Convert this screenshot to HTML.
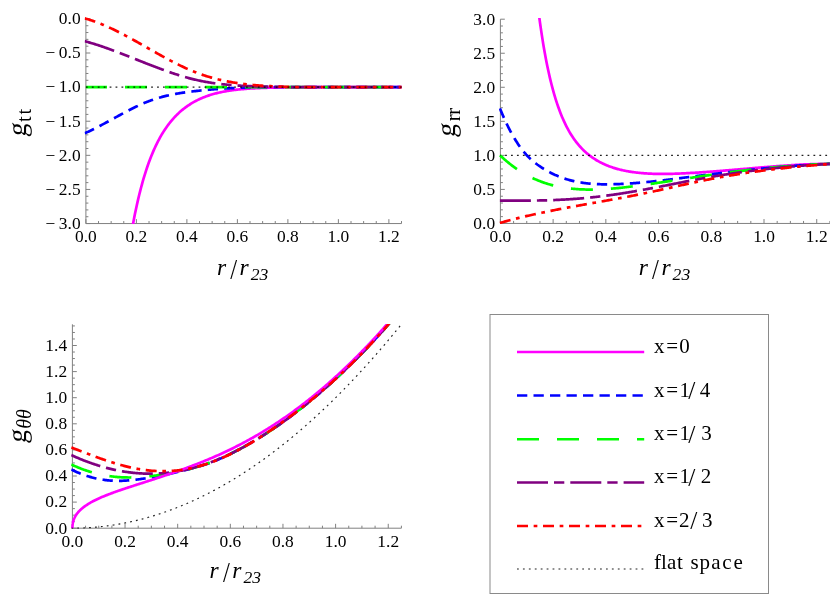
<!DOCTYPE html>
<html><head><meta charset="utf-8"><title>metric functions</title>
<style>
html,body{margin:0;padding:0;background:#fff;}
body{width:830px;height:599px;overflow:hidden;}
svg{display:block;font-family:"Liberation Serif",serif;will-change:transform;}
.t{font-size:17.4px;fill:#000;letter-spacing:0px;}
.xr{font-size:23.5px;font-style:italic;fill:#000;}
.xs{font-size:28px;fill:#000;}
.xsub{font-size:17.6px;font-style:italic;fill:#000;}
.yg{font-size:27px;fill:#000;}
.subr{font-size:20.5px;fill:#000;letter-spacing:1.9px;}
.subrr{font-size:20.5px;fill:#000;letter-spacing:-0.4px;}
.subi{font-size:20px;font-style:italic;fill:#000;}
.lg{font-size:21px;fill:#000;}
.sl{font-size:25.5px;}
</style></head><body>
<svg width="830" height="599" viewBox="0 0 830 599">
<defs>
<clipPath id="c1"><rect x="84.60" y="16.90" width="317.40" height="207.15"/></clipPath>
<clipPath id="c2"><rect x="499.10" y="18.10" width="331.30" height="205.85"/></clipPath>
<clipPath id="c3"><rect x="71.10" y="324.00" width="330.80" height="204.70"/></clipPath>
</defs>
<rect width="830" height="599" fill="#fff"/>
<path d="M85.90 18.90 V223.55 M85.90 223.55 H401.50" stroke="#808080" stroke-width="1" fill="none"/>
<path d="M98.52 223.55 v-2.5 M111.15 223.55 v-2.5 M123.77 223.55 v-2.5 M149.02 223.55 v-2.5 M161.64 223.55 v-2.5 M174.27 223.55 v-2.5 M199.52 223.55 v-2.5 M212.14 223.55 v-2.5 M224.76 223.55 v-2.5 M250.01 223.55 v-2.5 M262.64 223.55 v-2.5 M275.26 223.55 v-2.5 M300.51 223.55 v-2.5 M313.13 223.55 v-2.5 M325.76 223.55 v-2.5 M351.00 223.55 v-2.5 M363.63 223.55 v-2.5 M376.25 223.55 v-2.5 M401.50 223.55 v-2.5 M85.90 223.55 v-4.4 M136.40 223.55 v-4.4 M186.89 223.55 v-4.4 M237.39 223.55 v-4.4 M287.88 223.55 v-4.4 M338.38 223.55 v-4.4 M388.88 223.55 v-4.4 M85.90 25.72 h2.5 M85.90 32.54 h2.5 M85.90 39.36 h2.5 M85.90 46.19 h2.5 M85.90 59.83 h2.5 M85.90 66.65 h2.5 M85.90 73.47 h2.5 M85.90 80.29 h2.5 M85.90 93.94 h2.5 M85.90 100.76 h2.5 M85.90 107.58 h2.5 M85.90 114.40 h2.5 M85.90 128.05 h2.5 M85.90 134.87 h2.5 M85.90 141.69 h2.5 M85.90 148.51 h2.5 M85.90 162.16 h2.5 M85.90 168.98 h2.5 M85.90 175.80 h2.5 M85.90 182.62 h2.5 M85.90 196.26 h2.5 M85.90 203.09 h2.5 M85.90 209.91 h2.5 M85.90 216.73 h2.5 M85.90 18.90 h4.4 M85.90 53.01 h4.4 M85.90 87.12 h4.4 M85.90 121.23 h4.4 M85.90 155.33 h4.4 M85.90 189.44 h4.4 M85.90 223.55 h4.4 " stroke="#808080" stroke-width="1" fill="none"/>
<text x="85.90" y="242.15" class="t" text-anchor="middle">0.0</text>
<text x="136.40" y="242.15" class="t" text-anchor="middle">0.2</text>
<text x="186.89" y="242.15" class="t" text-anchor="middle">0.4</text>
<text x="237.39" y="242.15" class="t" text-anchor="middle">0.6</text>
<text x="287.88" y="242.15" class="t" text-anchor="middle">0.8</text>
<text x="338.38" y="242.15" class="t" text-anchor="middle">1.0</text>
<text x="388.88" y="242.15" class="t" text-anchor="middle">1.2</text>
<text x="80.60" y="24.25" class="t" text-anchor="end">0.0</text>
<text x="80.60" y="58.36" class="t" text-anchor="end">&#8722;&#8201;0.5</text>
<text x="80.60" y="92.47" class="t" text-anchor="end">&#8722;&#8201;1.0</text>
<text x="80.60" y="126.58" class="t" text-anchor="end">&#8722;&#8201;1.5</text>
<text x="80.60" y="160.68" class="t" text-anchor="end">&#8722;&#8201;2.0</text>
<text x="80.60" y="194.79" class="t" text-anchor="end">&#8722;&#8201;2.5</text>
<text x="80.60" y="228.90" class="t" text-anchor="end">&#8722;&#8201;3.0</text>
<path d="M126.30 265.84 L127.16 259.70 L128.02 253.81 L128.88 248.14 L129.75 242.69 L130.61 237.46 L131.47 232.42 L132.34 227.58 L133.20 222.92 L134.06 218.43 L134.92 214.11 L135.79 209.96 L136.65 205.95 L137.51 202.10 L138.37 198.38 L139.24 194.80 L140.10 191.35 L140.96 188.02 L141.83 184.80 L142.69 181.71 L143.55 178.72 L144.41 175.83 L145.28 173.04 L146.14 170.36 L147.00 167.76 L147.86 165.25 L148.73 162.82 L149.59 160.48 L150.45 158.22 L151.32 156.03 L152.18 153.91 L153.04 151.86 L153.90 149.88 L154.77 147.97 L155.63 146.11 L156.49 144.32 L157.35 142.58 L158.22 140.90 L159.08 139.27 L159.94 137.69 L160.81 136.16 L161.67 134.68 L162.53 133.25 L163.39 131.85 L164.26 130.51 L165.12 129.20 L165.98 127.93 L166.84 126.70 L167.71 125.51 L168.57 124.36 L169.43 123.23 L170.29 122.15 L171.16 121.09 L172.02 120.07 L172.88 119.07 L173.75 118.11 L174.61 117.17 L175.47 116.26 L176.33 115.38 L177.20 114.52 L178.06 113.69 L178.92 112.88 L179.78 112.09 L180.65 111.33 L181.51 110.59 L182.37 109.87 L183.24 109.17 L184.10 108.49 L184.96 107.83 L185.82 107.19 L186.69 106.56 L187.55 105.96 L188.41 105.37 L189.27 104.80 L190.14 104.24 L191.00 103.70 L191.86 103.18 L192.73 102.67 L193.59 102.17 L194.45 101.69 L195.31 101.22 L196.18 100.77 L197.04 100.33 L197.90 99.90 L198.76 99.48 L199.63 99.08 L200.49 98.68 L201.35 98.30 L202.21 97.93 L203.08 97.57 L203.94 97.22 L204.80 96.89 L205.67 96.56 L206.53 96.24 L207.39 95.93 L208.25 95.63 L209.12 95.35 L209.98 95.06 L210.84 94.79 L211.70 94.53 L212.57 94.27 L213.43 94.03 L214.29 93.79 L215.16 93.56 L216.02 93.33 L216.88 93.12 L217.74 92.91 L218.61 92.70 L219.47 92.51 L220.33 92.32 L221.19 92.13 L222.06 91.95 L222.92 91.78 L223.78 91.62 L224.65 91.46 L225.51 91.30 L226.37 91.15 L227.23 91.01 L228.10 90.87 L228.96 90.73 L229.82 90.60 L230.68 90.47 L231.55 90.35 L232.41 90.23 L233.27 90.12 L234.14 90.01 L235.00 89.90 L235.86 89.80 L236.72 89.70 L237.59 89.61 L238.45 89.51 L239.31 89.43 L240.17 89.34 L241.04 89.26 L241.90 89.18 L242.76 89.10 L243.62 89.03 L244.49 88.96 L245.35 88.89 L246.21 88.82 L247.08 88.76 L247.94 88.70 L248.80 88.64 L249.66 88.58 L250.53 88.52 L251.39 88.47 L252.25 88.42 L253.11 88.37 L253.98 88.32 L254.84 88.28 L255.70 88.23 L256.57 88.19 L257.43 88.15 L258.29 88.11 L259.15 88.07 L260.02 88.04 L260.88 88.00 L261.74 87.97 L262.60 87.93 L263.47 87.90 L264.33 87.87 L265.19 87.84 L266.06 87.82 L266.92 87.79 L267.78 87.76 L268.64 87.74 L269.51 87.71 L270.37 87.69 L271.23 87.67 L272.09 87.65 L272.96 87.63 L273.82 87.61 L274.68 87.59 L275.54 87.57 L276.41 87.55 L277.27 87.54 L278.13 87.52 L279.00 87.50 L279.86 87.49 L280.72 87.47 L281.58 87.46 L282.45 87.45 L283.31 87.43 L284.17 87.42 L285.03 87.41 L285.90 87.40 L286.76 87.39 L287.62 87.38 L288.49 87.37 L289.35 87.36 L290.21 87.35 L291.07 87.34 L291.94 87.33 L292.80 87.32 L293.66 87.31 L294.52 87.30 L295.39 87.29 L296.25 87.28 L297.11 87.27 L297.98 87.26 L298.84 87.25 L299.70 87.25 L300.56 87.24 L301.43 87.23 L302.29 87.22 L303.15 87.22 L304.01 87.21 L304.88 87.20 L305.74 87.20 L306.60 87.19 L307.47 87.19 L308.33 87.18 L309.19 87.18 L310.05 87.17 L310.92 87.17 L311.78 87.16 L312.64 87.16 L313.50 87.16 L314.37 87.15 L315.23 87.15 L316.09 87.15 L316.95 87.14 L317.82 87.14 L318.68 87.14 L319.54 87.14 L320.41 87.13 L321.27 87.13 L322.13 87.13 L322.99 87.13 L323.86 87.13 L324.72 87.13 L325.58 87.12 L326.44 87.12 L327.31 87.12 L328.17 87.12 L329.03 87.12 L329.90 87.12 L330.76 87.12 L331.62 87.12 L332.48 87.12 L333.35 87.12 L334.21 87.12 L335.07 87.12 L335.93 87.12 L336.80 87.12 L337.66 87.12 L338.52 87.12 L339.39 87.12 L340.25 87.12 L341.11 87.12 L341.97 87.12 L342.84 87.12 L343.70 87.12 L344.56 87.12 L345.42 87.12 L346.29 87.12 L347.15 87.12 L348.01 87.12 L348.87 87.12 L349.74 87.12 L350.60 87.12 L351.46 87.12 L352.33 87.12 L353.19 87.12 L354.05 87.12 L354.91 87.12 L355.78 87.12 L356.64 87.12 L357.50 87.12 L358.36 87.12 L359.23 87.12 L360.09 87.12 L360.95 87.12 L361.82 87.12 L362.68 87.12 L363.54 87.12 L364.40 87.12 L365.27 87.12 L366.13 87.12 L366.99 87.12 L367.85 87.12 L368.72 87.12 L369.58 87.12 L370.44 87.12 L371.31 87.12 L372.17 87.12 L373.03 87.12 L373.89 87.12 L374.76 87.12 L375.62 87.12 L376.48 87.12 L377.34 87.12 L378.21 87.12 L379.07 87.12 L379.93 87.12 L380.80 87.12 L381.66 87.12 L382.52 87.12 L383.38 87.12 L384.25 87.12 L385.11 87.12 L385.97 87.12 L386.83 87.12 L387.70 87.12 L388.56 87.12 L389.42 87.12 L390.28 87.12 L391.15 87.12 L392.01 87.12 L392.87 87.12 L393.74 87.12 L394.60 87.12 L395.46 87.12 L396.32 87.12 L397.19 87.12 L398.05 87.12 L398.91 87.12 L399.77 87.12 L400.64 87.12 L401.50 87.12" fill="none" stroke="#ff00ff" stroke-width="2.7" clip-path="url(#c1)"/>
<path d="M84.70 133.34 L85.90 132.79 L86.89 132.34 L87.88 131.89 L88.87 131.42 L89.86 130.96 L90.85 130.48 L91.84 130.00 L92.83 129.51 L93.81 129.02 L94.80 128.53 L95.79 128.02 L96.78 127.52 L97.77 127.01 L98.76 126.50 L99.75 125.98 L100.74 125.46 L101.73 124.93 L102.72 124.41 L103.71 123.88 L104.70 123.35 L105.69 122.81 L106.68 122.28 L107.67 121.74 L108.65 121.20 L109.64 120.66 L110.63 120.12 L111.62 119.58 L112.61 119.04 L113.60 118.49 L114.59 117.95 L115.58 117.41 L116.57 116.87 L117.56 116.33 L118.55 115.79 L119.54 115.25 L120.53 114.72 L121.52 114.18 L122.51 113.65 L123.49 113.12 L124.48 112.59 L125.47 112.07 L126.46 111.55 L127.45 111.03 L128.44 110.52 L129.43 110.01 L130.42 109.51 L131.41 109.00 L132.40 108.51 L133.39 108.02 L134.38 107.53 L135.37 107.05 L136.36 106.58 L137.35 106.11 L138.34 105.64 L139.32 105.19 L140.31 104.74 L141.30 104.30 L142.29 103.86 L143.28 103.43 L144.27 103.01 L145.26 102.60 L146.25 102.20 L147.24 101.80 L148.23 101.42 L149.22 101.04 L150.21 100.67 L151.20 100.31 L152.19 99.96 L153.18 99.62 L154.16 99.29 L155.15 98.96 L156.14 98.65 L157.13 98.34 L158.12 98.04 L159.11 97.75 L160.10 97.47 L161.09 97.19 L162.08 96.92 L163.07 96.66 L164.06 96.40 L165.05 96.16 L166.04 95.92 L167.03 95.68 L168.02 95.45 L169.00 95.23 L169.99 95.02 L170.98 94.81 L171.97 94.60 L172.96 94.40 L173.95 94.21 L174.94 94.02 L175.93 93.84 L176.92 93.66 L177.91 93.49 L178.90 93.32 L179.89 93.16 L180.88 93.00 L181.87 92.85 L182.86 92.70 L183.84 92.55 L184.83 92.41 L185.82 92.27 L186.81 92.13 L187.80 92.00 L188.79 91.87 L189.78 91.75 L190.77 91.62 L191.76 91.50 L192.75 91.38 L193.74 91.27 L194.73 91.15 L195.72 91.04 L196.71 90.93 L197.70 90.82 L198.68 90.72 L199.67 90.61 L200.66 90.51 L201.65 90.41 L202.64 90.31 L203.63 90.22 L204.62 90.12 L205.61 90.03 L206.60 89.94 L207.59 89.85 L208.58 89.76 L209.57 89.67 L210.56 89.59 L211.55 89.50 L212.54 89.42 L213.53 89.34 L214.51 89.26 L215.50 89.19 L216.49 89.11 L217.48 89.04 L218.47 88.97 L219.46 88.90 L220.45 88.83 L221.44 88.76 L222.43 88.70 L223.42 88.63 L224.41 88.57 L225.40 88.51 L226.39 88.45 L227.38 88.39 L228.37 88.34 L229.35 88.28 L230.34 88.23 L231.33 88.18 L232.32 88.13 L233.31 88.08 L234.30 88.03 L235.29 87.98 L236.28 87.94 L237.27 87.89 L238.26 87.85 L239.25 87.81 L240.24 87.77 L241.23 87.73 L242.22 87.69 L243.21 87.65 L244.19 87.62 L245.18 87.58 L246.17 87.55 L247.16 87.52 L248.15 87.49 L249.14 87.46 L250.13 87.43 L251.12 87.40 L252.11 87.37 L253.10 87.35 L254.09 87.32 L255.08 87.30 L256.07 87.28 L257.06 87.26 L258.05 87.24 L259.03 87.22 L260.02 87.20 L261.01 87.18 L262.00 87.16 L262.99 87.15 L263.98 87.13 L264.97 87.12 L265.96 87.11 L266.95 87.09 L267.94 87.08 L268.93 87.07 L269.92 87.06 L270.91 87.05 L271.90 87.04 L272.89 87.04 L273.87 87.03 L274.86 87.02 L275.85 87.02 L276.84 87.01 L277.83 87.01 L278.82 87.01 L279.81 87.00 L280.80 87.00 L281.79 87.00 L282.78 87.00 L283.77 87.00 L284.76 87.00 L285.75 87.00 L286.74 87.00 L287.73 87.00 L288.72 87.01 L289.70 87.01 L290.69 87.01 L291.68 87.02 L292.67 87.02 L293.66 87.03 L294.65 87.03 L295.64 87.04 L296.63 87.05 L297.62 87.05 L298.61 87.06 L299.60 87.07 L300.59 87.08 L301.58 87.08 L302.57 87.09 L303.56 87.10 L304.54 87.11 L305.53 87.11 L306.52 87.12 L307.51 87.12 L308.50 87.13 L309.49 87.14 L310.48 87.14 L311.47 87.14 L312.46 87.15 L313.45 87.15 L314.44 87.15 L315.43 87.16 L316.42 87.16 L317.41 87.16 L318.40 87.16 L319.38 87.16 L320.37 87.16 L321.36 87.16 L322.35 87.16 L323.34 87.15 L324.33 87.15 L325.32 87.15 L326.31 87.15 L327.30 87.14 L328.29 87.14 L329.28 87.14 L330.27 87.13 L331.26 87.13 L332.25 87.13 L333.24 87.12 L334.22 87.12 L335.21 87.12 L336.20 87.12 L337.19 87.12 L338.18 87.12 L339.17 87.12 L340.16 87.12 L341.15 87.12 L342.14 87.12 L343.13 87.12 L344.12 87.12 L345.11 87.12 L346.10 87.12 L347.09 87.12 L348.08 87.12 L349.06 87.12 L350.05 87.12 L351.04 87.12 L352.03 87.12 L353.02 87.12 L354.01 87.12 L355.00 87.12 L355.99 87.12 L356.98 87.12 L357.97 87.12 L358.96 87.12 L359.95 87.12 L360.94 87.12 L361.93 87.12 L362.92 87.12 L363.91 87.12 L364.89 87.12 L365.88 87.12 L366.87 87.12 L367.86 87.12 L368.85 87.12 L369.84 87.12 L370.83 87.12 L371.82 87.12 L372.81 87.12 L373.80 87.12 L374.79 87.12 L375.78 87.12 L376.77 87.12 L377.76 87.12 L378.75 87.12 L379.73 87.12 L380.72 87.12 L381.71 87.12 L382.70 87.12 L383.69 87.12 L384.68 87.12 L385.67 87.12 L386.66 87.12 L387.65 87.12 L388.64 87.12 L389.63 87.12 L390.62 87.12 L391.61 87.12 L392.60 87.12 L393.59 87.12 L394.57 87.12 L395.56 87.12 L396.55 87.12 L397.54 87.12 L398.53 87.12 L399.52 87.12 L400.51 87.12 L401.50 87.12" fill="none" stroke="#0000ff" stroke-width="2.7" stroke-dasharray="10.3 6.2" clip-path="url(#c1)"/>
<path d="M85.90 87.12 L401.50 87.12" fill="none" stroke="#00ff00" stroke-width="2.7" stroke-dasharray="22 18" stroke-dashoffset="0.9" clip-path="url(#c1)"/>
<path d="M84.70 41.17 L85.90 41.50 L86.89 41.77 L87.88 42.05 L88.87 42.34 L89.86 42.62 L90.85 42.92 L91.84 43.21 L92.83 43.51 L93.81 43.82 L94.80 44.13 L95.79 44.44 L96.78 44.76 L97.77 45.08 L98.76 45.40 L99.75 45.73 L100.74 46.06 L101.73 46.40 L102.72 46.73 L103.71 47.07 L104.70 47.42 L105.69 47.76 L106.68 48.11 L107.67 48.47 L108.65 48.82 L109.64 49.18 L110.63 49.54 L111.62 49.90 L112.61 50.27 L113.60 50.64 L114.59 51.01 L115.58 51.38 L116.57 51.75 L117.56 52.13 L118.55 52.50 L119.54 52.88 L120.53 53.26 L121.52 53.64 L122.51 54.03 L123.49 54.41 L124.48 54.80 L125.47 55.19 L126.46 55.57 L127.45 55.96 L128.44 56.35 L129.43 56.74 L130.42 57.13 L131.41 57.53 L132.40 57.92 L133.39 58.31 L134.38 58.70 L135.37 59.10 L136.36 59.49 L137.35 59.88 L138.34 60.28 L139.32 60.67 L140.31 61.06 L141.30 61.46 L142.29 61.85 L143.28 62.24 L144.27 62.63 L145.26 63.02 L146.25 63.41 L147.24 63.80 L148.23 64.19 L149.22 64.57 L150.21 64.96 L151.20 65.34 L152.19 65.72 L153.18 66.11 L154.16 66.49 L155.15 66.86 L156.14 67.24 L157.13 67.61 L158.12 67.99 L159.11 68.36 L160.10 68.72 L161.09 69.09 L162.08 69.45 L163.07 69.82 L164.06 70.18 L165.05 70.53 L166.04 70.89 L167.03 71.24 L168.02 71.58 L169.00 71.93 L169.99 72.27 L170.98 72.61 L171.97 72.95 L172.96 73.28 L173.95 73.61 L174.94 73.93 L175.93 74.26 L176.92 74.58 L177.91 74.89 L178.90 75.20 L179.89 75.51 L180.88 75.81 L181.87 76.11 L182.86 76.40 L183.84 76.69 L184.83 76.98 L185.82 77.26 L186.81 77.54 L187.80 77.81 L188.79 78.08 L189.78 78.34 L190.77 78.60 L191.76 78.85 L192.75 79.09 L193.74 79.34 L194.73 79.57 L195.72 79.80 L196.71 80.03 L197.70 80.25 L198.68 80.47 L199.67 80.67 L200.66 80.88 L201.65 81.08 L202.64 81.27 L203.63 81.46 L204.62 81.65 L205.61 81.83 L206.60 82.00 L207.59 82.17 L208.58 82.34 L209.57 82.50 L210.56 82.66 L211.55 82.81 L212.54 82.96 L213.53 83.10 L214.51 83.24 L215.50 83.38 L216.49 83.51 L217.48 83.64 L218.47 83.76 L219.46 83.88 L220.45 84.00 L221.44 84.11 L222.43 84.22 L223.42 84.33 L224.41 84.43 L225.40 84.53 L226.39 84.63 L227.38 84.72 L228.37 84.81 L229.35 84.90 L230.34 84.98 L231.33 85.06 L232.32 85.14 L233.31 85.21 L234.30 85.29 L235.29 85.36 L236.28 85.42 L237.27 85.49 L238.26 85.55 L239.25 85.61 L240.24 85.67 L241.23 85.73 L242.22 85.78 L243.21 85.83 L244.19 85.88 L245.18 85.93 L246.17 85.98 L247.16 86.02 L248.15 86.07 L249.14 86.11 L250.13 86.15 L251.12 86.19 L252.11 86.23 L253.10 86.26 L254.09 86.30 L255.08 86.33 L256.07 86.36 L257.06 86.40 L258.05 86.43 L259.03 86.46 L260.02 86.49 L261.01 86.52 L262.00 86.54 L262.99 86.57 L263.98 86.60 L264.97 86.62 L265.96 86.65 L266.95 86.67 L267.94 86.70 L268.93 86.72 L269.92 86.74 L270.91 86.76 L271.90 86.78 L272.89 86.80 L273.87 86.82 L274.86 86.84 L275.85 86.86 L276.84 86.87 L277.83 86.89 L278.82 86.91 L279.81 86.92 L280.80 86.94 L281.79 86.95 L282.78 86.96 L283.77 86.98 L284.76 86.99 L285.75 87.00 L286.74 87.01 L287.73 87.02 L288.72 87.03 L289.70 87.04 L290.69 87.05 L291.68 87.06 L292.67 87.07 L293.66 87.08 L294.65 87.08 L295.64 87.09 L296.63 87.10 L297.62 87.10 L298.61 87.11 L299.60 87.11 L300.59 87.11 L301.58 87.12 L302.57 87.12 L303.56 87.12 L304.54 87.12 L305.53 87.13 L306.52 87.13 L307.51 87.13 L308.50 87.13 L309.49 87.13 L310.48 87.13 L311.47 87.13 L312.46 87.13 L313.45 87.13 L314.44 87.13 L315.43 87.13 L316.42 87.12 L317.41 87.12 L318.40 87.12 L319.38 87.12 L320.37 87.12 L321.36 87.12 L322.35 87.12 L323.34 87.12 L324.33 87.12 L325.32 87.12 L326.31 87.12 L327.30 87.12 L328.29 87.12 L329.28 87.12 L330.27 87.12 L331.26 87.12 L332.25 87.12 L333.24 87.12 L334.22 87.12 L335.21 87.12 L336.20 87.12 L337.19 87.12 L338.18 87.12 L339.17 87.12 L340.16 87.12 L341.15 87.12 L342.14 87.12 L343.13 87.12 L344.12 87.12 L345.11 87.12 L346.10 87.12 L347.09 87.12 L348.08 87.12 L349.06 87.12 L350.05 87.12 L351.04 87.12 L352.03 87.12 L353.02 87.12 L354.01 87.12 L355.00 87.12 L355.99 87.12 L356.98 87.12 L357.97 87.12 L358.96 87.12 L359.95 87.12 L360.94 87.12 L361.93 87.12 L362.92 87.12 L363.91 87.12 L364.89 87.12 L365.88 87.12 L366.87 87.12 L367.86 87.12 L368.85 87.12 L369.84 87.12 L370.83 87.12 L371.82 87.12 L372.81 87.12 L373.80 87.12 L374.79 87.12 L375.78 87.12 L376.77 87.12 L377.76 87.12 L378.75 87.12 L379.73 87.12 L380.72 87.12 L381.71 87.12 L382.70 87.12 L383.69 87.12 L384.68 87.12 L385.67 87.12 L386.66 87.12 L387.65 87.12 L388.64 87.12 L389.63 87.12 L390.62 87.12 L391.61 87.12 L392.60 87.12 L393.59 87.12 L394.57 87.12 L395.56 87.12 L396.55 87.12 L397.54 87.12 L398.53 87.12 L399.52 87.12 L400.51 87.12 L401.50 87.12" fill="none" stroke="#800080" stroke-width="2.7" stroke-dasharray="31 6 10.3 6" clip-path="url(#c1)"/>
<path d="M84.70 18.36 L85.90 18.70 L86.89 18.99 L87.88 19.28 L88.87 19.58 L89.86 19.89 L90.85 20.21 L91.84 20.53 L92.83 20.87 L93.81 21.21 L94.80 21.56 L95.79 21.92 L96.78 22.29 L97.77 22.66 L98.76 23.05 L99.75 23.43 L100.74 23.83 L101.73 24.23 L102.72 24.64 L103.71 25.06 L104.70 25.48 L105.69 25.91 L106.68 26.35 L107.67 26.79 L108.65 27.23 L109.64 27.69 L110.63 28.15 L111.62 28.61 L112.61 29.08 L113.60 29.55 L114.59 30.03 L115.58 30.52 L116.57 31.01 L117.56 31.50 L118.55 32.00 L119.54 32.50 L120.53 33.01 L121.52 33.52 L122.51 34.03 L123.49 34.55 L124.48 35.07 L125.47 35.60 L126.46 36.13 L127.45 36.66 L128.44 37.19 L129.43 37.73 L130.42 38.27 L131.41 38.81 L132.40 39.36 L133.39 39.90 L134.38 40.45 L135.37 41.00 L136.36 41.55 L137.35 42.11 L138.34 42.66 L139.32 43.22 L140.31 43.78 L141.30 44.34 L142.29 44.90 L143.28 45.46 L144.27 46.02 L145.26 46.58 L146.25 47.15 L147.24 47.71 L148.23 48.27 L149.22 48.83 L150.21 49.39 L151.20 49.96 L152.19 50.52 L153.18 51.08 L154.16 51.64 L155.15 52.19 L156.14 52.75 L157.13 53.31 L158.12 53.86 L159.11 54.41 L160.10 54.96 L161.09 55.51 L162.08 56.06 L163.07 56.60 L164.06 57.14 L165.05 57.68 L166.04 58.22 L167.03 58.76 L168.02 59.29 L169.00 59.81 L169.99 60.34 L170.98 60.86 L171.97 61.38 L172.96 61.89 L173.95 62.40 L174.94 62.91 L175.93 63.41 L176.92 63.91 L177.91 64.40 L178.90 64.89 L179.89 65.37 L180.88 65.85 L181.87 66.33 L182.86 66.80 L183.84 67.26 L184.83 67.72 L185.82 68.17 L186.81 68.62 L187.80 69.06 L188.79 69.49 L189.78 69.92 L190.77 70.34 L191.76 70.76 L192.75 71.17 L193.74 71.57 L194.73 71.97 L195.72 72.35 L196.71 72.74 L197.70 73.11 L198.68 73.48 L199.67 73.84 L200.66 74.19 L201.65 74.54 L202.64 74.88 L203.63 75.21 L204.62 75.54 L205.61 75.85 L206.60 76.17 L207.59 76.48 L208.58 76.78 L209.57 77.07 L210.56 77.36 L211.55 77.64 L212.54 77.92 L213.53 78.19 L214.51 78.45 L215.50 78.71 L216.49 78.96 L217.48 79.21 L218.47 79.45 L219.46 79.69 L220.45 79.92 L221.44 80.15 L222.43 80.37 L223.42 80.58 L224.41 80.79 L225.40 81.00 L226.39 81.20 L227.38 81.39 L228.37 81.58 L229.35 81.77 L230.34 81.95 L231.33 82.12 L232.32 82.30 L233.31 82.46 L234.30 82.63 L235.29 82.78 L236.28 82.94 L237.27 83.09 L238.26 83.23 L239.25 83.38 L240.24 83.51 L241.23 83.65 L242.22 83.78 L243.21 83.90 L244.19 84.03 L245.18 84.15 L246.17 84.26 L247.16 84.37 L248.15 84.48 L249.14 84.59 L250.13 84.69 L251.12 84.79 L252.11 84.89 L253.10 84.98 L254.09 85.07 L255.08 85.15 L256.07 85.24 L257.06 85.32 L258.05 85.40 L259.03 85.48 L260.02 85.55 L261.01 85.62 L262.00 85.69 L262.99 85.76 L263.98 85.82 L264.97 85.88 L265.96 85.94 L266.95 86.00 L267.94 86.06 L268.93 86.11 L269.92 86.16 L270.91 86.21 L271.90 86.26 L272.89 86.31 L273.87 86.36 L274.86 86.40 L275.85 86.44 L276.84 86.49 L277.83 86.52 L278.82 86.56 L279.81 86.60 L280.80 86.63 L281.79 86.67 L282.78 86.70 L283.77 86.73 L284.76 86.76 L285.75 86.79 L286.74 86.82 L287.73 86.84 L288.72 86.87 L289.70 86.89 L290.69 86.91 L291.68 86.93 L292.67 86.96 L293.66 86.98 L294.65 86.99 L295.64 87.01 L296.63 87.03 L297.62 87.04 L298.61 87.05 L299.60 87.07 L300.59 87.08 L301.58 87.08 L302.57 87.09 L303.56 87.10 L304.54 87.11 L305.53 87.11 L306.52 87.11 L307.51 87.12 L308.50 87.12 L309.49 87.12 L310.48 87.12 L311.47 87.12 L312.46 87.12 L313.45 87.12 L314.44 87.12 L315.43 87.12 L316.42 87.12 L317.41 87.12 L318.40 87.12 L319.38 87.12 L320.37 87.12 L321.36 87.12 L322.35 87.11 L323.34 87.11 L324.33 87.11 L325.32 87.11 L326.31 87.11 L327.30 87.11 L328.29 87.11 L329.28 87.11 L330.27 87.11 L331.26 87.11 L332.25 87.11 L333.24 87.11 L334.22 87.11 L335.21 87.12 L336.20 87.12 L337.19 87.12 L338.18 87.12 L339.17 87.12 L340.16 87.12 L341.15 87.12 L342.14 87.12 L343.13 87.12 L344.12 87.12 L345.11 87.12 L346.10 87.12 L347.09 87.12 L348.08 87.12 L349.06 87.12 L350.05 87.12 L351.04 87.12 L352.03 87.12 L353.02 87.12 L354.01 87.12 L355.00 87.12 L355.99 87.12 L356.98 87.12 L357.97 87.12 L358.96 87.12 L359.95 87.12 L360.94 87.12 L361.93 87.12 L362.92 87.12 L363.91 87.12 L364.89 87.12 L365.88 87.12 L366.87 87.12 L367.86 87.12 L368.85 87.12 L369.84 87.12 L370.83 87.12 L371.82 87.12 L372.81 87.12 L373.80 87.12 L374.79 87.12 L375.78 87.12 L376.77 87.12 L377.76 87.12 L378.75 87.12 L379.73 87.12 L380.72 87.12 L381.71 87.12 L382.70 87.12 L383.69 87.12 L384.68 87.12 L385.67 87.12 L386.66 87.12 L387.65 87.12 L388.64 87.12 L389.63 87.12 L390.62 87.12 L391.61 87.12 L392.60 87.12 L393.59 87.12 L394.57 87.12 L395.56 87.12 L396.55 87.12 L397.54 87.12 L398.53 87.12 L399.52 87.12 L400.51 87.12 L401.50 87.12" fill="none" stroke="#ff0000" stroke-width="2.7" stroke-dasharray="11 5.65 3.7 5.65" clip-path="url(#c1)"/>
<path d="M85.90 87.12 L401.50 87.12" fill="none" stroke="#000000" stroke-width="1.15" stroke-dasharray="1.8 4.13" stroke-opacity="0.88" clip-path="url(#c1)"/>
<path d="M500.40 19.20 V223.45 M500.40 223.45 H829.90" stroke="#808080" stroke-width="1" fill="none"/>
<path d="M513.58 223.45 v-2.5 M526.76 223.45 v-2.5 M539.94 223.45 v-2.5 M566.30 223.45 v-2.5 M579.48 223.45 v-2.5 M592.66 223.45 v-2.5 M619.02 223.45 v-2.5 M632.20 223.45 v-2.5 M645.38 223.45 v-2.5 M671.74 223.45 v-2.5 M684.92 223.45 v-2.5 M698.10 223.45 v-2.5 M724.46 223.45 v-2.5 M737.64 223.45 v-2.5 M750.82 223.45 v-2.5 M777.18 223.45 v-2.5 M790.36 223.45 v-2.5 M803.54 223.45 v-2.5 M829.90 223.45 v-2.5 M500.40 223.45 v-4.4 M553.12 223.45 v-4.4 M605.84 223.45 v-4.4 M658.56 223.45 v-4.4 M711.28 223.45 v-4.4 M764.00 223.45 v-4.4 M816.72 223.45 v-4.4 M500.40 216.64 h2.5 M500.40 209.83 h2.5 M500.40 203.02 h2.5 M500.40 196.22 h2.5 M500.40 182.60 h2.5 M500.40 175.79 h2.5 M500.40 168.98 h2.5 M500.40 162.17 h2.5 M500.40 148.56 h2.5 M500.40 141.75 h2.5 M500.40 134.94 h2.5 M500.40 128.13 h2.5 M500.40 114.52 h2.5 M500.40 107.71 h2.5 M500.40 100.90 h2.5 M500.40 94.09 h2.5 M500.40 80.47 h2.5 M500.40 73.67 h2.5 M500.40 66.86 h2.5 M500.40 60.05 h2.5 M500.40 46.43 h2.5 M500.40 39.62 h2.5 M500.40 32.82 h2.5 M500.40 26.01 h2.5 M500.40 223.45 h4.4 M500.40 189.41 h4.4 M500.40 155.37 h4.4 M500.40 121.32 h4.4 M500.40 87.28 h4.4 M500.40 53.24 h4.4 M500.40 19.20 h4.4 " stroke="#808080" stroke-width="1" fill="none"/>
<text x="500.40" y="242.05" class="t" text-anchor="middle">0.0</text>
<text x="553.12" y="242.05" class="t" text-anchor="middle">0.2</text>
<text x="605.84" y="242.05" class="t" text-anchor="middle">0.4</text>
<text x="658.56" y="242.05" class="t" text-anchor="middle">0.6</text>
<text x="711.28" y="242.05" class="t" text-anchor="middle">0.8</text>
<text x="764.00" y="242.05" class="t" text-anchor="middle">1.0</text>
<text x="816.72" y="242.05" class="t" text-anchor="middle">1.2</text>
<text x="495.10" y="228.80" class="t" text-anchor="end">0.0</text>
<text x="495.10" y="194.76" class="t" text-anchor="end">0.5</text>
<text x="495.10" y="160.72" class="t" text-anchor="end">1.0</text>
<text x="495.10" y="126.67" class="t" text-anchor="end">1.5</text>
<text x="495.10" y="92.63" class="t" text-anchor="end">2.0</text>
<text x="495.10" y="58.59" class="t" text-anchor="end">2.5</text>
<text x="495.10" y="24.55" class="t" text-anchor="end">3.0</text>
<path d="M535.99 -9.75 L536.80 -2.53 L537.62 4.35 L538.44 10.93 L539.26 17.20 L540.08 23.20 L540.90 28.93 L541.72 34.41 L542.54 39.64 L543.35 44.66 L544.17 49.45 L544.99 54.04 L545.81 58.44 L546.63 62.65 L547.45 66.69 L548.27 70.56 L549.09 74.27 L549.90 77.83 L550.72 81.24 L551.54 84.52 L552.36 87.67 L553.18 90.69 L554.00 93.60 L554.82 96.39 L555.63 99.07 L556.45 101.65 L557.27 104.13 L558.09 106.52 L558.91 108.82 L559.73 111.03 L560.55 113.16 L561.37 115.21 L562.18 117.18 L563.00 119.09 L563.82 120.92 L564.64 122.69 L565.46 124.39 L566.28 126.04 L567.10 127.62 L567.92 129.16 L568.73 130.63 L569.55 132.06 L570.37 133.44 L571.19 134.77 L572.01 136.05 L572.83 137.29 L573.65 138.49 L574.46 139.65 L575.28 140.77 L576.10 141.86 L576.92 142.91 L577.74 143.92 L578.56 144.90 L579.38 145.85 L580.20 146.77 L581.01 147.66 L581.83 148.53 L582.65 149.36 L583.47 150.17 L584.29 150.96 L585.11 151.72 L585.93 152.45 L586.75 153.17 L587.56 153.86 L588.38 154.53 L589.20 155.18 L590.02 155.82 L590.84 156.43 L591.66 157.02 L592.48 157.60 L593.30 158.16 L594.11 158.70 L594.93 159.22 L595.75 159.73 L596.57 160.23 L597.39 160.71 L598.21 161.18 L599.03 161.63 L599.84 162.07 L600.66 162.50 L601.48 162.92 L602.30 163.32 L603.12 163.71 L603.94 164.09 L604.76 164.46 L605.58 164.82 L606.39 165.17 L607.21 165.51 L608.03 165.84 L608.85 166.15 L609.67 166.46 L610.49 166.76 L611.31 167.05 L612.13 167.33 L612.94 167.61 L613.76 167.87 L614.58 168.13 L615.40 168.38 L616.22 168.62 L617.04 168.85 L617.86 169.08 L618.67 169.30 L619.49 169.51 L620.31 169.71 L621.13 169.91 L621.95 170.10 L622.77 170.28 L623.59 170.46 L624.41 170.64 L625.22 170.80 L626.04 170.96 L626.86 171.12 L627.68 171.27 L628.50 171.41 L629.32 171.55 L630.14 171.68 L630.96 171.81 L631.77 171.94 L632.59 172.06 L633.41 172.17 L634.23 172.28 L635.05 172.39 L635.87 172.49 L636.69 172.58 L637.51 172.68 L638.32 172.77 L639.14 172.85 L639.96 172.93 L640.78 173.01 L641.60 173.09 L642.42 173.16 L643.24 173.22 L644.05 173.29 L644.87 173.35 L645.69 173.41 L646.51 173.46 L647.33 173.51 L648.15 173.56 L648.97 173.60 L649.79 173.64 L650.60 173.68 L651.42 173.72 L652.24 173.75 L653.06 173.78 L653.88 173.81 L654.70 173.83 L655.52 173.85 L656.34 173.87 L657.15 173.89 L657.97 173.90 L658.79 173.91 L659.61 173.92 L660.43 173.93 L661.25 173.93 L662.07 173.93 L662.88 173.93 L663.70 173.93 L664.52 173.93 L665.34 173.92 L666.16 173.91 L666.98 173.90 L667.80 173.89 L668.62 173.88 L669.43 173.86 L670.25 173.84 L671.07 173.83 L671.89 173.80 L672.71 173.78 L673.53 173.76 L674.35 173.73 L675.17 173.71 L675.98 173.68 L676.80 173.65 L677.62 173.62 L678.44 173.58 L679.26 173.55 L680.08 173.51 L680.90 173.48 L681.71 173.44 L682.53 173.40 L683.35 173.36 L684.17 173.32 L684.99 173.28 L685.81 173.24 L686.63 173.20 L687.45 173.16 L688.26 173.11 L689.08 173.07 L689.90 173.02 L690.72 172.97 L691.54 172.93 L692.36 172.88 L693.18 172.83 L694.00 172.78 L694.81 172.73 L695.63 172.68 L696.45 172.63 L697.27 172.58 L698.09 172.53 L698.91 172.48 L699.73 172.42 L700.55 172.37 L701.36 172.32 L702.18 172.26 L703.00 172.21 L703.82 172.15 L704.64 172.09 L705.46 172.04 L706.28 171.98 L707.09 171.92 L707.91 171.86 L708.73 171.80 L709.55 171.74 L710.37 171.68 L711.19 171.62 L712.01 171.56 L712.83 171.50 L713.64 171.44 L714.46 171.38 L715.28 171.31 L716.10 171.25 L716.92 171.19 L717.74 171.12 L718.56 171.06 L719.38 171.00 L720.19 170.93 L721.01 170.87 L721.83 170.80 L722.65 170.73 L723.47 170.67 L724.29 170.60 L725.11 170.53 L725.92 170.47 L726.74 170.40 L727.56 170.33 L728.38 170.26 L729.20 170.20 L730.02 170.13 L730.84 170.06 L731.66 169.99 L732.47 169.92 L733.29 169.85 L734.11 169.78 L734.93 169.71 L735.75 169.64 L736.57 169.57 L737.39 169.50 L738.21 169.43 L739.02 169.36 L739.84 169.29 L740.66 169.22 L741.48 169.15 L742.30 169.08 L743.12 169.01 L743.94 168.94 L744.75 168.87 L745.57 168.80 L746.39 168.73 L747.21 168.66 L748.03 168.59 L748.85 168.52 L749.67 168.45 L750.49 168.38 L751.30 168.31 L752.12 168.24 L752.94 168.16 L753.76 168.09 L754.58 168.02 L755.40 167.95 L756.22 167.88 L757.04 167.81 L757.85 167.75 L758.67 167.68 L759.49 167.61 L760.31 167.54 L761.13 167.47 L761.95 167.40 L762.77 167.33 L763.59 167.26 L764.40 167.20 L765.22 167.13 L766.04 167.06 L766.86 166.99 L767.68 166.93 L768.50 166.86 L769.32 166.79 L770.13 166.73 L770.95 166.66 L771.77 166.60 L772.59 166.53 L773.41 166.47 L774.23 166.40 L775.05 166.34 L775.87 166.28 L776.68 166.22 L777.50 166.15 L778.32 166.09 L779.14 166.03 L779.96 165.97 L780.78 165.91 L781.60 165.85 L782.42 165.79 L783.23 165.73 L784.05 165.68 L784.87 165.62 L785.69 165.56 L786.51 165.51 L787.33 165.45 L788.15 165.40 L788.96 165.34 L789.78 165.29 L790.60 165.24 L791.42 165.18 L792.24 165.13 L793.06 165.08 L793.88 165.03 L794.70 164.98 L795.51 164.93 L796.33 164.89 L797.15 164.84 L797.97 164.79 L798.79 164.75 L799.61 164.71 L800.43 164.66 L801.25 164.62 L802.06 164.58 L802.88 164.54 L803.70 164.50 L804.52 164.46 L805.34 164.42 L806.16 164.38 L806.98 164.35 L807.80 164.31 L808.61 164.28 L809.43 164.25 L810.25 164.21 L811.07 164.18 L811.89 164.15 L812.71 164.13 L813.53 164.10 L814.34 164.07 L815.16 164.05 L815.98 164.02 L816.80 164.00 L817.62 163.98 L818.44 163.96 L819.26 163.94 L820.08 163.92 L820.89 163.90 L821.71 163.88 L822.53 163.87 L823.35 163.86 L824.17 163.84 L824.99 163.83 L825.81 163.82 L826.63 163.81 L827.44 163.81 L828.26 163.80 L829.08 163.80 L829.90 163.79" fill="none" stroke="#ff00ff" stroke-width="2.7" clip-path="url(#c2)"/>
<path d="M499.90 108.42 L500.40 109.63 L501.43 112.11 L502.47 114.54 L503.50 116.91 L504.53 119.21 L505.56 121.46 L506.60 123.64 L507.63 125.77 L508.66 127.84 L509.70 129.85 L510.73 131.80 L511.76 133.70 L512.79 135.54 L513.83 137.32 L514.86 139.05 L515.89 140.73 L516.93 142.35 L517.96 143.92 L518.99 145.43 L520.03 146.90 L521.06 148.31 L522.09 149.67 L523.12 150.98 L524.16 152.24 L525.19 153.45 L526.22 154.61 L527.26 155.73 L528.29 156.80 L529.32 157.83 L530.35 158.82 L531.39 159.77 L532.42 160.68 L533.45 161.56 L534.49 162.40 L535.52 163.22 L536.55 164.01 L537.58 164.77 L538.62 165.50 L539.65 166.22 L540.68 166.91 L541.72 167.59 L542.75 168.25 L543.78 168.89 L544.82 169.52 L545.85 170.13 L546.88 170.72 L547.91 171.30 L548.95 171.86 L549.98 172.40 L551.01 172.93 L552.05 173.45 L553.08 173.95 L554.11 174.43 L555.14 174.91 L556.18 175.36 L557.21 175.80 L558.24 176.23 L559.28 176.65 L560.31 177.05 L561.34 177.43 L562.37 177.81 L563.41 178.17 L564.44 178.52 L565.47 178.85 L566.51 179.18 L567.54 179.49 L568.57 179.79 L569.61 180.08 L570.64 180.35 L571.67 180.62 L572.70 180.87 L573.74 181.11 L574.77 181.35 L575.80 181.57 L576.84 181.78 L577.87 181.98 L578.90 182.17 L579.93 182.35 L580.97 182.52 L582.00 182.69 L583.03 182.84 L584.07 182.98 L585.10 183.12 L586.13 183.25 L587.16 183.37 L588.20 183.48 L589.23 183.58 L590.26 183.68 L591.30 183.76 L592.33 183.84 L593.36 183.92 L594.40 183.99 L595.43 184.05 L596.46 184.10 L597.49 184.15 L598.53 184.19 L599.56 184.22 L600.59 184.25 L601.63 184.28 L602.66 184.30 L603.69 184.31 L604.72 184.32 L605.76 184.32 L606.79 184.32 L607.82 184.32 L608.86 184.31 L609.89 184.30 L610.92 184.28 L611.95 184.26 L612.99 184.24 L614.02 184.22 L615.05 184.19 L616.09 184.16 L617.12 184.12 L618.15 184.08 L619.19 184.04 L620.22 184.00 L621.25 183.95 L622.28 183.91 L623.32 183.85 L624.35 183.80 L625.38 183.74 L626.42 183.68 L627.45 183.62 L628.48 183.56 L629.51 183.49 L630.55 183.42 L631.58 183.35 L632.61 183.28 L633.65 183.20 L634.68 183.12 L635.71 183.04 L636.74 182.96 L637.78 182.88 L638.81 182.79 L639.84 182.70 L640.88 182.61 L641.91 182.52 L642.94 182.42 L643.98 182.33 L645.01 182.23 L646.04 182.13 L647.07 182.03 L648.11 181.93 L649.14 181.82 L650.17 181.72 L651.21 181.61 L652.24 181.50 L653.27 181.39 L654.30 181.28 L655.34 181.17 L656.37 181.05 L657.40 180.94 L658.44 180.82 L659.47 180.70 L660.50 180.58 L661.53 180.46 L662.57 180.34 L663.60 180.22 L664.63 180.10 L665.67 179.97 L666.70 179.85 L667.73 179.72 L668.77 179.60 L669.80 179.47 L670.83 179.34 L671.86 179.22 L672.90 179.09 L673.93 178.96 L674.96 178.83 L676.00 178.70 L677.03 178.57 L678.06 178.44 L679.09 178.31 L680.13 178.18 L681.16 178.05 L682.19 177.92 L683.23 177.78 L684.26 177.65 L685.29 177.52 L686.32 177.39 L687.36 177.26 L688.39 177.13 L689.42 177.00 L690.46 176.87 L691.49 176.74 L692.52 176.60 L693.56 176.47 L694.59 176.34 L695.62 176.21 L696.65 176.08 L697.69 175.95 L698.72 175.83 L699.75 175.70 L700.79 175.57 L701.82 175.44 L702.85 175.31 L703.88 175.18 L704.92 175.05 L705.95 174.93 L706.98 174.80 L708.02 174.67 L709.05 174.54 L710.08 174.42 L711.11 174.29 L712.15 174.17 L713.18 174.04 L714.21 173.91 L715.25 173.79 L716.28 173.66 L717.31 173.54 L718.35 173.42 L719.38 173.29 L720.41 173.17 L721.44 173.05 L722.48 172.92 L723.51 172.80 L724.54 172.68 L725.58 172.56 L726.61 172.44 L727.64 172.32 L728.67 172.20 L729.71 172.08 L730.74 171.96 L731.77 171.84 L732.81 171.72 L733.84 171.61 L734.87 171.49 L735.90 171.37 L736.94 171.26 L737.97 171.14 L739.00 171.03 L740.04 170.91 L741.07 170.80 L742.10 170.68 L743.14 170.57 L744.17 170.46 L745.20 170.35 L746.23 170.24 L747.27 170.13 L748.30 170.02 L749.33 169.91 L750.37 169.80 L751.40 169.69 L752.43 169.58 L753.46 169.47 L754.50 169.37 L755.53 169.26 L756.56 169.16 L757.60 169.05 L758.63 168.95 L759.66 168.85 L760.69 168.74 L761.73 168.64 L762.76 168.54 L763.79 168.44 L764.83 168.34 L765.86 168.24 L766.89 168.15 L767.93 168.05 L768.96 167.95 L769.99 167.86 L771.02 167.76 L772.06 167.67 L773.09 167.57 L774.12 167.48 L775.16 167.39 L776.19 167.30 L777.22 167.21 L778.25 167.12 L779.29 167.03 L780.32 166.94 L781.35 166.86 L782.39 166.77 L783.42 166.68 L784.45 166.60 L785.48 166.52 L786.52 166.43 L787.55 166.35 L788.58 166.27 L789.62 166.19 L790.65 166.11 L791.68 166.03 L792.72 165.96 L793.75 165.88 L794.78 165.81 L795.81 165.73 L796.85 165.66 L797.88 165.59 L798.91 165.51 L799.95 165.44 L800.98 165.37 L802.01 165.31 L803.04 165.24 L804.08 165.17 L805.11 165.11 L806.14 165.04 L807.18 164.98 L808.21 164.92 L809.24 164.86 L810.27 164.80 L811.31 164.74 L812.34 164.68 L813.37 164.62 L814.41 164.57 L815.44 164.51 L816.47 164.46 L817.51 164.41 L818.54 164.35 L819.57 164.30 L820.60 164.26 L821.64 164.21 L822.67 164.16 L823.70 164.12 L824.74 164.07 L825.77 164.03 L826.80 163.99 L827.83 163.95 L828.87 163.91 L829.90 163.87" fill="none" stroke="#0000ff" stroke-width="2.7" stroke-dasharray="10.3 6.2" clip-path="url(#c2)"/>
<path d="M499.90 155.21 L500.40 155.68 L501.43 156.65 L502.47 157.59 L503.50 158.52 L504.53 159.44 L505.56 160.33 L506.60 161.21 L507.63 162.07 L508.66 162.91 L509.70 163.74 L510.73 164.55 L511.76 165.34 L512.79 166.12 L513.83 166.88 L514.86 167.62 L515.89 168.35 L516.93 169.06 L517.96 169.76 L518.99 170.44 L520.03 171.11 L521.06 171.76 L522.09 172.40 L523.12 173.02 L524.16 173.63 L525.19 174.22 L526.22 174.80 L527.26 175.36 L528.29 175.91 L529.32 176.45 L530.35 176.97 L531.39 177.48 L532.42 177.98 L533.45 178.46 L534.49 178.93 L535.52 179.39 L536.55 179.83 L537.58 180.27 L538.62 180.69 L539.65 181.09 L540.68 181.49 L541.72 181.87 L542.75 182.25 L543.78 182.61 L544.82 182.96 L545.85 183.30 L546.88 183.62 L547.91 183.94 L548.95 184.25 L549.98 184.54 L551.01 184.83 L552.05 185.10 L553.08 185.37 L554.11 185.63 L555.14 185.87 L556.18 186.11 L557.21 186.33 L558.24 186.55 L559.28 186.76 L560.31 186.96 L561.34 187.15 L562.37 187.33 L563.41 187.51 L564.44 187.68 L565.47 187.83 L566.51 187.98 L567.54 188.13 L568.57 188.26 L569.61 188.39 L570.64 188.51 L571.67 188.62 L572.70 188.73 L573.74 188.83 L574.77 188.92 L575.80 189.01 L576.84 189.09 L577.87 189.16 L578.90 189.23 L579.93 189.29 L580.97 189.34 L582.00 189.39 L583.03 189.44 L584.07 189.47 L585.10 189.50 L586.13 189.53 L587.16 189.55 L588.20 189.56 L589.23 189.57 L590.26 189.58 L591.30 189.58 L592.33 189.57 L593.36 189.56 L594.40 189.54 L595.43 189.52 L596.46 189.50 L597.49 189.47 L598.53 189.43 L599.56 189.39 L600.59 189.35 L601.63 189.30 L602.66 189.25 L603.69 189.19 L604.72 189.13 L605.76 189.07 L606.79 189.00 L607.82 188.93 L608.86 188.85 L609.89 188.78 L610.92 188.70 L611.95 188.61 L612.99 188.52 L614.02 188.43 L615.05 188.34 L616.09 188.24 L617.12 188.14 L618.15 188.04 L619.19 187.93 L620.22 187.83 L621.25 187.72 L622.28 187.60 L623.32 187.49 L624.35 187.37 L625.38 187.26 L626.42 187.14 L627.45 187.01 L628.48 186.89 L629.51 186.76 L630.55 186.64 L631.58 186.51 L632.61 186.38 L633.65 186.25 L634.68 186.11 L635.71 185.98 L636.74 185.85 L637.78 185.71 L638.81 185.57 L639.84 185.44 L640.88 185.30 L641.91 185.16 L642.94 185.01 L643.98 184.87 L645.01 184.73 L646.04 184.58 L647.07 184.44 L648.11 184.29 L649.14 184.15 L650.17 184.00 L651.21 183.85 L652.24 183.70 L653.27 183.55 L654.30 183.40 L655.34 183.25 L656.37 183.10 L657.40 182.95 L658.44 182.79 L659.47 182.64 L660.50 182.49 L661.53 182.33 L662.57 182.18 L663.60 182.02 L664.63 181.86 L665.67 181.71 L666.70 181.55 L667.73 181.39 L668.77 181.24 L669.80 181.08 L670.83 180.92 L671.86 180.76 L672.90 180.60 L673.93 180.45 L674.96 180.29 L676.00 180.13 L677.03 179.97 L678.06 179.81 L679.09 179.65 L680.13 179.49 L681.16 179.33 L682.19 179.18 L683.23 179.02 L684.26 178.86 L685.29 178.70 L686.32 178.54 L687.36 178.38 L688.39 178.23 L689.42 178.07 L690.46 177.91 L691.49 177.75 L692.52 177.60 L693.56 177.44 L694.59 177.28 L695.62 177.13 L696.65 176.97 L697.69 176.82 L698.72 176.66 L699.75 176.51 L700.79 176.36 L701.82 176.21 L702.85 176.05 L703.88 175.90 L704.92 175.75 L705.95 175.60 L706.98 175.45 L708.02 175.30 L709.05 175.16 L710.08 175.01 L711.11 174.86 L712.15 174.72 L713.18 174.57 L714.21 174.43 L715.25 174.28 L716.28 174.14 L717.31 174.00 L718.35 173.86 L719.38 173.72 L720.41 173.57 L721.44 173.44 L722.48 173.30 L723.51 173.16 L724.54 173.02 L725.58 172.88 L726.61 172.75 L727.64 172.61 L728.67 172.48 L729.71 172.35 L730.74 172.21 L731.77 172.08 L732.81 171.95 L733.84 171.82 L734.87 171.69 L735.90 171.56 L736.94 171.43 L737.97 171.31 L739.00 171.18 L740.04 171.05 L741.07 170.93 L742.10 170.81 L743.14 170.68 L744.17 170.56 L745.20 170.44 L746.23 170.32 L747.27 170.20 L748.30 170.08 L749.33 169.96 L750.37 169.84 L751.40 169.73 L752.43 169.61 L753.46 169.50 L754.50 169.38 L755.53 169.27 L756.56 169.16 L757.60 169.05 L758.63 168.94 L759.66 168.83 L760.69 168.72 L761.73 168.62 L762.76 168.51 L763.79 168.40 L764.83 168.30 L765.86 168.20 L766.89 168.09 L767.93 167.99 L768.96 167.89 L769.99 167.79 L771.02 167.69 L772.06 167.60 L773.09 167.50 L774.12 167.40 L775.16 167.31 L776.19 167.21 L777.22 167.12 L778.25 167.03 L779.29 166.94 L780.32 166.85 L781.35 166.76 L782.39 166.67 L783.42 166.59 L784.45 166.50 L785.48 166.42 L786.52 166.33 L787.55 166.25 L788.58 166.17 L789.62 166.09 L790.65 166.01 L791.68 165.93 L792.72 165.86 L793.75 165.78 L794.78 165.71 L795.81 165.63 L796.85 165.56 L797.88 165.49 L798.91 165.42 L799.95 165.35 L800.98 165.28 L802.01 165.21 L803.04 165.15 L804.08 165.08 L805.11 165.02 L806.14 164.96 L807.18 164.89 L808.21 164.83 L809.24 164.78 L810.27 164.72 L811.31 164.66 L812.34 164.61 L813.37 164.55 L814.41 164.50 L815.44 164.45 L816.47 164.40 L817.51 164.35 L818.54 164.30 L819.57 164.25 L820.60 164.20 L821.64 164.16 L822.67 164.12 L823.70 164.07 L824.74 164.03 L825.77 163.99 L826.80 163.96 L827.83 163.92 L828.87 163.88 L829.90 163.85" fill="none" stroke="#00ff00" stroke-width="2.7" stroke-dasharray="22 18" clip-path="url(#c2)"/>
<path d="M499.90 200.69 L500.40 200.69 L501.43 200.69 L502.47 200.70 L503.50 200.70 L504.53 200.71 L505.56 200.71 L506.60 200.71 L507.63 200.71 L508.66 200.72 L509.70 200.72 L510.73 200.72 L511.76 200.72 L512.79 200.72 L513.83 200.72 L514.86 200.72 L515.89 200.72 L516.93 200.72 L517.96 200.71 L518.99 200.71 L520.03 200.71 L521.06 200.70 L522.09 200.69 L523.12 200.69 L524.16 200.68 L525.19 200.67 L526.22 200.67 L527.26 200.66 L528.29 200.65 L529.32 200.63 L530.35 200.62 L531.39 200.61 L532.42 200.59 L533.45 200.58 L534.49 200.56 L535.52 200.55 L536.55 200.53 L537.58 200.51 L538.62 200.49 L539.65 200.47 L540.68 200.44 L541.72 200.42 L542.75 200.40 L543.78 200.37 L544.82 200.34 L545.85 200.31 L546.88 200.28 L547.91 200.25 L548.95 200.22 L549.98 200.19 L551.01 200.15 L552.05 200.11 L553.08 200.07 L554.11 200.03 L555.14 199.99 L556.18 199.95 L557.21 199.91 L558.24 199.86 L559.28 199.81 L560.31 199.76 L561.34 199.71 L562.37 199.66 L563.41 199.61 L564.44 199.55 L565.47 199.49 L566.51 199.43 L567.54 199.37 L568.57 199.31 L569.61 199.24 L570.64 199.18 L571.67 199.11 L572.70 199.04 L573.74 198.97 L574.77 198.89 L575.80 198.82 L576.84 198.74 L577.87 198.66 L578.90 198.58 L579.93 198.49 L580.97 198.41 L582.00 198.32 L583.03 198.23 L584.07 198.13 L585.10 198.04 L586.13 197.94 L587.16 197.84 L588.20 197.74 L589.23 197.64 L590.26 197.53 L591.30 197.43 L592.33 197.32 L593.36 197.21 L594.40 197.09 L595.43 196.98 L596.46 196.86 L597.49 196.74 L598.53 196.62 L599.56 196.50 L600.59 196.37 L601.63 196.25 L602.66 196.12 L603.69 195.99 L604.72 195.86 L605.76 195.72 L606.79 195.59 L607.82 195.45 L608.86 195.31 L609.89 195.17 L610.92 195.03 L611.95 194.88 L612.99 194.74 L614.02 194.59 L615.05 194.44 L616.09 194.29 L617.12 194.14 L618.15 193.98 L619.19 193.83 L620.22 193.67 L621.25 193.51 L622.28 193.35 L623.32 193.19 L624.35 193.02 L625.38 192.86 L626.42 192.69 L627.45 192.53 L628.48 192.36 L629.51 192.19 L630.55 192.01 L631.58 191.84 L632.61 191.67 L633.65 191.49 L634.68 191.31 L635.71 191.13 L636.74 190.95 L637.78 190.77 L638.81 190.59 L639.84 190.41 L640.88 190.22 L641.91 190.04 L642.94 189.85 L643.98 189.66 L645.01 189.47 L646.04 189.28 L647.07 189.09 L648.11 188.90 L649.14 188.70 L650.17 188.51 L651.21 188.31 L652.24 188.12 L653.27 187.92 L654.30 187.72 L655.34 187.52 L656.37 187.33 L657.40 187.13 L658.44 186.93 L659.47 186.73 L660.50 186.52 L661.53 186.32 L662.57 186.12 L663.60 185.92 L664.63 185.72 L665.67 185.51 L666.70 185.31 L667.73 185.10 L668.77 184.90 L669.80 184.70 L670.83 184.49 L671.86 184.29 L672.90 184.09 L673.93 183.88 L674.96 183.68 L676.00 183.47 L677.03 183.27 L678.06 183.07 L679.09 182.86 L680.13 182.66 L681.16 182.46 L682.19 182.25 L683.23 182.05 L684.26 181.85 L685.29 181.65 L686.32 181.45 L687.36 181.25 L688.39 181.05 L689.42 180.85 L690.46 180.65 L691.49 180.46 L692.52 180.26 L693.56 180.06 L694.59 179.87 L695.62 179.67 L696.65 179.48 L697.69 179.29 L698.72 179.10 L699.75 178.91 L700.79 178.72 L701.82 178.53 L702.85 178.34 L703.88 178.16 L704.92 177.97 L705.95 177.79 L706.98 177.61 L708.02 177.42 L709.05 177.24 L710.08 177.07 L711.11 176.89 L712.15 176.71 L713.18 176.54 L714.21 176.36 L715.25 176.19 L716.28 176.02 L717.31 175.85 L718.35 175.68 L719.38 175.51 L720.41 175.34 L721.44 175.18 L722.48 175.01 L723.51 174.85 L724.54 174.69 L725.58 174.53 L726.61 174.36 L727.64 174.21 L728.67 174.05 L729.71 173.89 L730.74 173.74 L731.77 173.58 L732.81 173.43 L733.84 173.28 L734.87 173.13 L735.90 172.98 L736.94 172.83 L737.97 172.68 L739.00 172.53 L740.04 172.39 L741.07 172.24 L742.10 172.10 L743.14 171.96 L744.17 171.82 L745.20 171.68 L746.23 171.54 L747.27 171.40 L748.30 171.26 L749.33 171.13 L750.37 171.00 L751.40 170.86 L752.43 170.73 L753.46 170.60 L754.50 170.47 L755.53 170.34 L756.56 170.21 L757.60 170.09 L758.63 169.96 L759.66 169.84 L760.69 169.72 L761.73 169.59 L762.76 169.47 L763.79 169.35 L764.83 169.23 L765.86 169.12 L766.89 169.00 L767.93 168.88 L768.96 168.77 L769.99 168.66 L771.02 168.55 L772.06 168.43 L773.09 168.32 L774.12 168.22 L775.16 168.11 L776.19 168.00 L777.22 167.89 L778.25 167.79 L779.29 167.69 L780.32 167.58 L781.35 167.48 L782.39 167.38 L783.42 167.28 L784.45 167.19 L785.48 167.09 L786.52 166.99 L787.55 166.90 L788.58 166.80 L789.62 166.71 L790.65 166.62 L791.68 166.53 L792.72 166.44 L793.75 166.35 L794.78 166.26 L795.81 166.17 L796.85 166.09 L797.88 166.00 L798.91 165.92 L799.95 165.84 L800.98 165.76 L802.01 165.68 L803.04 165.60 L804.08 165.52 L805.11 165.44 L806.14 165.37 L807.18 165.29 L808.21 165.22 L809.24 165.14 L810.27 165.07 L811.31 165.00 L812.34 164.93 L813.37 164.86 L814.41 164.79 L815.44 164.73 L816.47 164.66 L817.51 164.60 L818.54 164.53 L819.57 164.47 L820.60 164.41 L821.64 164.35 L822.67 164.29 L823.70 164.23 L824.74 164.17 L825.77 164.11 L826.80 164.06 L827.83 164.00 L828.87 163.95 L829.90 163.90" fill="none" stroke="#800080" stroke-width="2.7" stroke-dasharray="31 6 10.3 6" clip-path="url(#c2)"/>
<path d="M499.90 222.93 L500.40 222.79 L501.43 222.50 L502.47 222.21 L503.50 221.93 L504.53 221.64 L505.56 221.36 L506.60 221.08 L507.63 220.81 L508.66 220.53 L509.70 220.26 L510.73 219.99 L511.76 219.72 L512.79 219.46 L513.83 219.19 L514.86 218.93 L515.89 218.67 L516.93 218.41 L517.96 218.16 L518.99 217.90 L520.03 217.65 L521.06 217.40 L522.09 217.15 L523.12 216.90 L524.16 216.66 L525.19 216.42 L526.22 216.17 L527.26 215.93 L528.29 215.70 L529.32 215.46 L530.35 215.22 L531.39 214.99 L532.42 214.76 L533.45 214.53 L534.49 214.30 L535.52 214.07 L536.55 213.85 L537.58 213.62 L538.62 213.40 L539.65 213.18 L540.68 212.96 L541.72 212.74 L542.75 212.52 L543.78 212.31 L544.82 212.09 L545.85 211.88 L546.88 211.67 L547.91 211.46 L548.95 211.25 L549.98 211.04 L551.01 210.83 L552.05 210.62 L553.08 210.42 L554.11 210.21 L555.14 210.01 L556.18 209.80 L557.21 209.60 L558.24 209.40 L559.28 209.20 L560.31 209.00 L561.34 208.81 L562.37 208.61 L563.41 208.41 L564.44 208.22 L565.47 208.02 L566.51 207.83 L567.54 207.63 L568.57 207.44 L569.61 207.25 L570.64 207.06 L571.67 206.86 L572.70 206.67 L573.74 206.48 L574.77 206.29 L575.80 206.11 L576.84 205.92 L577.87 205.73 L578.90 205.54 L579.93 205.35 L580.97 205.17 L582.00 204.98 L583.03 204.79 L584.07 204.61 L585.10 204.42 L586.13 204.24 L587.16 204.05 L588.20 203.87 L589.23 203.68 L590.26 203.50 L591.30 203.31 L592.33 203.13 L593.36 202.94 L594.40 202.76 L595.43 202.57 L596.46 202.39 L597.49 202.21 L598.53 202.02 L599.56 201.84 L600.59 201.65 L601.63 201.47 L602.66 201.28 L603.69 201.10 L604.72 200.91 L605.76 200.72 L606.79 200.54 L607.82 200.35 L608.86 200.16 L609.89 199.98 L610.92 199.79 L611.95 199.60 L612.99 199.41 L614.02 199.22 L615.05 199.03 L616.09 198.84 L617.12 198.65 L618.15 198.46 L619.19 198.27 L620.22 198.08 L621.25 197.89 L622.28 197.69 L623.32 197.50 L624.35 197.30 L625.38 197.11 L626.42 196.91 L627.45 196.71 L628.48 196.52 L629.51 196.32 L630.55 196.12 L631.58 195.92 L632.61 195.71 L633.65 195.51 L634.68 195.31 L635.71 195.10 L636.74 194.90 L637.78 194.69 L638.81 194.48 L639.84 194.27 L640.88 194.06 L641.91 193.85 L642.94 193.64 L643.98 193.43 L645.01 193.21 L646.04 193.00 L647.07 192.78 L648.11 192.56 L649.14 192.34 L650.17 192.12 L651.21 191.90 L652.24 191.68 L653.27 191.45 L654.30 191.23 L655.34 191.01 L656.37 190.78 L657.40 190.56 L658.44 190.33 L659.47 190.10 L660.50 189.87 L661.53 189.65 L662.57 189.42 L663.60 189.19 L664.63 188.96 L665.67 188.73 L666.70 188.50 L667.73 188.27 L668.77 188.04 L669.80 187.81 L670.83 187.58 L671.86 187.34 L672.90 187.11 L673.93 186.88 L674.96 186.65 L676.00 186.42 L677.03 186.19 L678.06 185.96 L679.09 185.73 L680.13 185.50 L681.16 185.27 L682.19 185.04 L683.23 184.81 L684.26 184.58 L685.29 184.36 L686.32 184.13 L687.36 183.90 L688.39 183.68 L689.42 183.45 L690.46 183.23 L691.49 183.00 L692.52 182.78 L693.56 182.56 L694.59 182.33 L695.62 182.11 L696.65 181.90 L697.69 181.68 L698.72 181.46 L699.75 181.24 L700.79 181.03 L701.82 180.81 L702.85 180.60 L703.88 180.39 L704.92 180.18 L705.95 179.97 L706.98 179.77 L708.02 179.56 L709.05 179.36 L710.08 179.15 L711.11 178.95 L712.15 178.75 L713.18 178.55 L714.21 178.36 L715.25 178.16 L716.28 177.97 L717.31 177.78 L718.35 177.59 L719.38 177.40 L720.41 177.21 L721.44 177.02 L722.48 176.84 L723.51 176.65 L724.54 176.47 L725.58 176.29 L726.61 176.11 L727.64 175.93 L728.67 175.75 L729.71 175.58 L730.74 175.40 L731.77 175.23 L732.81 175.06 L733.84 174.89 L734.87 174.72 L735.90 174.55 L736.94 174.39 L737.97 174.22 L739.00 174.06 L740.04 173.89 L741.07 173.73 L742.10 173.57 L743.14 173.42 L744.17 173.26 L745.20 173.10 L746.23 172.95 L747.27 172.79 L748.30 172.64 L749.33 172.49 L750.37 172.34 L751.40 172.19 L752.43 172.05 L753.46 171.90 L754.50 171.76 L755.53 171.61 L756.56 171.47 L757.60 171.33 L758.63 171.19 L759.66 171.05 L760.69 170.91 L761.73 170.78 L762.76 170.64 L763.79 170.51 L764.83 170.38 L765.86 170.24 L766.89 170.11 L767.93 169.98 L768.96 169.86 L769.99 169.73 L771.02 169.60 L772.06 169.48 L773.09 169.35 L774.12 169.23 L775.16 169.11 L776.19 168.99 L777.22 168.87 L778.25 168.75 L779.29 168.63 L780.32 168.52 L781.35 168.40 L782.39 168.29 L783.42 168.18 L784.45 168.06 L785.48 167.95 L786.52 167.84 L787.55 167.73 L788.58 167.63 L789.62 167.52 L790.65 167.41 L791.68 167.31 L792.72 167.21 L793.75 167.10 L794.78 167.00 L795.81 166.90 L796.85 166.80 L797.88 166.70 L798.91 166.60 L799.95 166.51 L800.98 166.41 L802.01 166.31 L803.04 166.22 L804.08 166.13 L805.11 166.03 L806.14 165.94 L807.18 165.85 L808.21 165.76 L809.24 165.67 L810.27 165.59 L811.31 165.50 L812.34 165.41 L813.37 165.33 L814.41 165.24 L815.44 165.16 L816.47 165.08 L817.51 165.00 L818.54 164.92 L819.57 164.84 L820.60 164.76 L821.64 164.68 L822.67 164.60 L823.70 164.52 L824.74 164.45 L825.77 164.37 L826.80 164.30 L827.83 164.22 L828.87 164.15 L829.90 164.08" fill="none" stroke="#ff0000" stroke-width="2.7" stroke-dasharray="11 5.65 3.7 5.65" clip-path="url(#c2)"/>
<path d="M500.40 155.37 L829.90 155.37" fill="none" stroke="#000000" stroke-width="1.15" stroke-dasharray="1.8 4.13" stroke-opacity="0.88" stroke-dashoffset="1.25" clip-path="url(#c2)"/>
<path d="M72.40 324.30 V528.20 M72.40 528.20 H401.40" stroke="#808080" stroke-width="1" fill="none"/>
<path d="M85.56 528.20 v-2.5 M98.72 528.20 v-2.5 M111.88 528.20 v-2.5 M138.20 528.20 v-2.5 M151.36 528.20 v-2.5 M164.52 528.20 v-2.5 M190.84 528.20 v-2.5 M204.00 528.20 v-2.5 M217.16 528.20 v-2.5 M243.48 528.20 v-2.5 M256.64 528.20 v-2.5 M269.80 528.20 v-2.5 M296.12 528.20 v-2.5 M309.28 528.20 v-2.5 M322.44 528.20 v-2.5 M348.76 528.20 v-2.5 M361.92 528.20 v-2.5 M375.08 528.20 v-2.5 M401.40 528.20 v-2.5 M72.40 528.20 v-4.4 M125.04 528.20 v-4.4 M177.68 528.20 v-4.4 M230.32 528.20 v-4.4 M282.96 528.20 v-4.4 M335.60 528.20 v-4.4 M388.24 528.20 v-4.4 M72.40 521.68 h2.5 M72.40 515.15 h2.5 M72.40 508.63 h2.5 M72.40 495.58 h2.5 M72.40 489.05 h2.5 M72.40 482.53 h2.5 M72.40 469.48 h2.5 M72.40 462.95 h2.5 M72.40 456.43 h2.5 M72.40 443.38 h2.5 M72.40 436.85 h2.5 M72.40 430.33 h2.5 M72.40 417.28 h2.5 M72.40 410.75 h2.5 M72.40 404.23 h2.5 M72.40 391.18 h2.5 M72.40 384.65 h2.5 M72.40 378.13 h2.5 M72.40 365.08 h2.5 M72.40 358.56 h2.5 M72.40 352.03 h2.5 M72.40 338.98 h2.5 M72.40 332.46 h2.5 M72.40 325.93 h2.5 M72.40 528.20 h4.4 M72.40 502.10 h4.4 M72.40 476.00 h4.4 M72.40 449.90 h4.4 M72.40 423.80 h4.4 M72.40 397.70 h4.4 M72.40 371.60 h4.4 M72.40 345.51 h4.4 " stroke="#808080" stroke-width="1" fill="none"/>
<text x="72.40" y="546.80" class="t" text-anchor="middle">0.0</text>
<text x="125.04" y="546.80" class="t" text-anchor="middle">0.2</text>
<text x="177.68" y="546.80" class="t" text-anchor="middle">0.4</text>
<text x="230.32" y="546.80" class="t" text-anchor="middle">0.6</text>
<text x="282.96" y="546.80" class="t" text-anchor="middle">0.8</text>
<text x="335.60" y="546.80" class="t" text-anchor="middle">1.0</text>
<text x="388.24" y="546.80" class="t" text-anchor="middle">1.2</text>
<text x="67.10" y="533.55" class="t" text-anchor="end">0.0</text>
<text x="67.10" y="507.45" class="t" text-anchor="end">0.2</text>
<text x="67.10" y="481.35" class="t" text-anchor="end">0.4</text>
<text x="67.10" y="455.25" class="t" text-anchor="end">0.6</text>
<text x="67.10" y="429.15" class="t" text-anchor="end">0.8</text>
<text x="67.10" y="403.05" class="t" text-anchor="end">1.0</text>
<text x="67.10" y="376.95" class="t" text-anchor="end">1.2</text>
<text x="67.10" y="350.86" class="t" text-anchor="end">1.4</text>
<path d="M71.30 469.52 L72.40 470.05 L73.43 470.55 L74.46 471.04 L75.49 471.51 L76.53 471.97 L77.56 472.42 L78.59 472.86 L79.62 473.28 L80.65 473.70 L81.68 474.10 L82.71 474.48 L83.74 474.86 L84.78 475.22 L85.81 475.58 L86.84 475.92 L87.87 476.25 L88.90 476.56 L89.93 476.87 L90.96 477.16 L92.00 477.44 L93.03 477.71 L94.06 477.97 L95.09 478.21 L96.12 478.45 L97.15 478.67 L98.18 478.89 L99.22 479.09 L100.25 479.28 L101.28 479.46 L102.31 479.62 L103.34 479.78 L104.37 479.93 L105.40 480.06 L106.43 480.18 L107.47 480.30 L108.50 480.40 L109.53 480.49 L110.56 480.57 L111.59 480.64 L112.62 480.70 L113.65 480.75 L114.69 480.79 L115.72 480.82 L116.75 480.83 L117.78 480.84 L118.81 480.84 L119.84 480.83 L120.87 480.81 L121.90 480.78 L122.94 480.75 L123.97 480.70 L125.00 480.65 L126.03 480.59 L127.06 480.52 L128.09 480.45 L129.12 480.36 L130.16 480.28 L131.19 480.18 L132.22 480.08 L133.25 479.97 L134.28 479.86 L135.31 479.74 L136.34 479.62 L137.37 479.49 L138.41 479.35 L139.44 479.22 L140.47 479.08 L141.50 478.93 L142.53 478.78 L143.56 478.63 L144.59 478.47 L145.63 478.31 L146.66 478.15 L147.69 477.99 L148.72 477.82 L149.75 477.65 L150.78 477.48 L151.81 477.31 L152.85 477.13 L153.88 476.96 L154.91 476.77 L155.94 476.59 L156.97 476.40 L158.00 476.22 L159.03 476.02 L160.06 475.83 L161.10 475.63 L162.13 475.43 L163.16 475.22 L164.19 475.01 L165.22 474.80 L166.25 474.58 L167.28 474.37 L168.32 474.14 L169.35 473.91 L170.38 473.68 L171.41 473.45 L172.44 473.21 L173.47 472.97 L174.50 472.72 L175.53 472.47 L176.57 472.21 L177.60 471.96 L178.63 471.70 L179.66 471.43 L180.69 471.17 L181.72 470.91 L182.75 470.64 L183.79 470.38 L184.82 470.11 L185.85 469.85 L186.88 469.59 L187.91 469.33 L188.94 469.07 L189.97 468.82 L191.01 468.56 L192.04 468.30 L193.07 468.04 L194.10 467.78 L195.13 467.52 L196.16 467.25 L197.19 466.97 L198.22 466.69 L199.26 466.39 L200.29 466.09 L201.32 465.78 L202.35 465.46 L203.38 465.14 L204.41 464.80 L205.44 464.45 L206.48 464.10 L207.51 463.74 L208.54 463.37 L209.57 463.00 L210.60 462.61 L211.63 462.22 L212.66 461.82 L213.69 461.41 L214.73 461.00 L215.76 460.58 L216.79 460.15 L217.82 459.71 L218.85 459.27 L219.88 458.82 L220.91 458.36 L221.95 457.90 L222.98 457.43 L224.01 456.96 L225.04 456.48 L226.07 455.99 L227.10 455.50 L228.13 455.00 L229.16 454.49 L230.20 453.98 L231.23 453.47 L232.26 452.95 L233.29 452.42 L234.32 451.89 L235.35 451.36 L236.38 450.82 L237.42 450.27 L238.45 449.72 L239.48 449.17 L240.51 448.61 L241.54 448.05 L242.57 447.48 L243.60 446.91 L244.64 446.33 L245.67 445.75 L246.70 445.17 L247.73 444.58 L248.76 443.99 L249.79 443.39 L250.82 442.79 L251.85 442.19 L252.89 441.58 L253.92 440.96 L254.95 440.35 L255.98 439.73 L257.01 439.10 L258.04 438.47 L259.07 437.84 L260.11 437.20 L261.14 436.55 L262.17 435.91 L263.20 435.26 L264.23 434.60 L265.26 433.94 L266.29 433.28 L267.32 432.61 L268.36 431.94 L269.39 431.26 L270.42 430.58 L271.45 429.90 L272.48 429.21 L273.51 428.51 L274.54 427.82 L275.58 427.11 L276.61 426.41 L277.64 425.70 L278.67 424.98 L279.70 424.27 L280.73 423.54 L281.76 422.81 L282.79 422.08 L283.83 421.35 L284.86 420.61 L285.89 419.86 L286.92 419.11 L287.95 418.36 L288.98 417.60 L290.01 416.84 L291.05 416.08 L292.08 415.31 L293.11 414.53 L294.14 413.76 L295.17 412.97 L296.20 412.19 L297.23 411.39 L298.27 410.60 L299.30 409.80 L300.33 409.00 L301.36 408.19 L302.39 407.37 L303.42 406.56 L304.45 405.74 L305.48 404.91 L306.52 404.08 L307.55 403.25 L308.58 402.41 L309.61 401.57 L310.64 400.72 L311.67 399.87 L312.70 399.01 L313.74 398.15 L314.77 397.29 L315.80 396.42 L316.83 395.55 L317.86 394.67 L318.89 393.79 L319.92 392.90 L320.95 392.01 L321.99 391.12 L323.02 390.22 L324.05 389.32 L325.08 388.41 L326.11 387.50 L327.14 386.58 L328.17 385.66 L329.21 384.74 L330.24 383.81 L331.27 382.88 L332.30 381.94 L333.33 381.00 L334.36 380.05 L335.39 379.10 L336.43 378.15 L337.46 377.19 L338.49 376.22 L339.52 375.26 L340.55 374.28 L341.58 373.31 L342.61 372.33 L343.64 371.34 L344.68 370.35 L345.71 369.36 L346.74 368.36 L347.77 367.36 L348.80 366.35 L349.83 365.34 L350.86 364.32 L351.90 363.30 L352.93 362.28 L353.96 361.25 L354.99 360.22 L356.02 359.18 L357.05 358.14 L358.08 357.09 L359.11 356.04 L360.15 354.99 L361.18 353.93 L362.21 352.86 L363.24 351.80 L364.27 350.72 L365.30 349.65 L366.33 348.57 L367.37 347.48 L368.40 346.39 L369.43 345.30 L370.46 344.20 L371.49 343.09 L372.52 341.99 L373.55 340.87 L374.58 339.76 L375.62 338.64 L376.65 337.51 L377.68 336.38 L378.71 335.25 L379.74 334.11 L380.77 332.97 L381.80 331.82 L382.84 330.67 L383.87 329.51 L384.90 328.35 L385.93 327.19 L386.96 326.02 L387.99 324.85 L389.02 323.67 L390.06 322.49 L391.09 321.30 L392.12 320.11 L393.15 318.91 L394.18 317.71 L395.21 316.51 L396.24 315.30 L397.27 314.08 L398.31 312.87 L399.34 311.64 L400.37 310.42 L401.40 309.19" fill="none" stroke="#0000ff" stroke-width="2.7" stroke-dasharray="10.3 6.2" clip-path="url(#c3)"/>
<path d="M71.30 464.48 L72.40 464.98 L73.43 465.46 L74.46 465.92 L75.49 466.38 L76.53 466.82 L77.56 467.26 L78.59 467.68 L79.62 468.10 L80.65 468.50 L81.68 468.90 L82.71 469.29 L83.74 469.66 L84.78 470.03 L85.81 470.39 L86.84 470.74 L87.87 471.08 L88.90 471.41 L89.93 471.73 L90.96 472.04 L92.00 472.34 L93.03 472.63 L94.06 472.92 L95.09 473.19 L96.12 473.46 L97.15 473.71 L98.18 473.96 L99.22 474.20 L100.25 474.43 L101.28 474.65 L102.31 474.87 L103.34 475.07 L104.37 475.27 L105.40 475.45 L106.43 475.63 L107.47 475.80 L108.50 475.96 L109.53 476.11 L110.56 476.26 L111.59 476.39 L112.62 476.52 L113.65 476.64 L114.69 476.75 L115.72 476.86 L116.75 476.95 L117.78 477.04 L118.81 477.12 L119.84 477.19 L120.87 477.25 L121.90 477.31 L122.94 477.35 L123.97 477.39 L125.00 477.43 L126.03 477.45 L127.06 477.47 L128.09 477.48 L129.12 477.48 L130.16 477.48 L131.19 477.46 L132.22 477.45 L133.25 477.42 L134.28 477.39 L135.31 477.35 L136.34 477.31 L137.37 477.26 L138.41 477.20 L139.44 477.14 L140.47 477.08 L141.50 477.00 L142.53 476.92 L143.56 476.84 L144.59 476.75 L145.63 476.66 L146.66 476.56 L147.69 476.46 L148.72 476.35 L149.75 476.23 L150.78 476.12 L151.81 476.00 L152.85 475.87 L153.88 475.74 L154.91 475.61 L155.94 475.47 L156.97 475.33 L158.00 475.18 L159.03 475.04 L160.06 474.88 L161.10 474.73 L162.13 474.57 L163.16 474.41 L164.19 474.25 L165.22 474.08 L166.25 473.91 L167.28 473.73 L168.32 473.55 L169.35 473.37 L170.38 473.19 L171.41 473.00 L172.44 472.81 L173.47 472.61 L174.50 472.41 L175.53 472.20 L176.57 471.99 L177.60 471.78 L178.63 471.56 L179.66 471.34 L180.69 471.11 L181.72 470.88 L182.75 470.65 L183.79 470.41 L184.82 470.16 L185.85 469.91 L186.88 469.66 L187.91 469.40 L188.94 469.14 L189.97 468.87 L191.01 468.59 L192.04 468.32 L193.07 468.03 L194.10 467.74 L195.13 467.45 L196.16 467.15 L197.19 466.84 L198.22 466.53 L199.26 466.22 L200.29 465.89 L201.32 465.57 L202.35 465.23 L203.38 464.89 L204.41 464.55 L205.44 464.20 L206.48 463.84 L207.51 463.48 L208.54 463.11 L209.57 462.73 L210.60 462.35 L211.63 461.96 L212.66 461.57 L213.69 461.17 L214.73 460.76 L215.76 460.35 L216.79 459.93 L217.82 459.51 L218.85 459.08 L219.88 458.64 L220.91 458.20 L221.95 457.75 L222.98 457.30 L224.01 456.84 L225.04 456.37 L226.07 455.90 L227.10 455.42 L228.13 454.94 L229.16 454.45 L230.20 453.96 L231.23 453.46 L232.26 452.96 L233.29 452.45 L234.32 451.93 L235.35 451.41 L236.38 450.88 L237.42 450.35 L238.45 449.82 L239.48 449.27 L240.51 448.73 L241.54 448.18 L242.57 447.62 L243.60 447.06 L244.64 446.49 L245.67 445.92 L246.70 445.34 L247.73 444.76 L248.76 444.17 L249.79 443.58 L250.82 442.98 L251.85 442.38 L252.89 441.77 L253.92 441.16 L254.95 440.54 L255.98 439.92 L257.01 439.29 L258.04 438.66 L259.07 438.03 L260.11 437.38 L261.14 436.74 L262.17 436.09 L263.20 435.43 L264.23 434.77 L265.26 434.11 L266.29 433.44 L267.32 432.77 L268.36 432.09 L269.39 431.40 L270.42 430.72 L271.45 430.02 L272.48 429.33 L273.51 428.63 L274.54 427.92 L275.58 427.21 L276.61 426.50 L277.64 425.78 L278.67 425.05 L279.70 424.32 L280.73 423.59 L281.76 422.86 L282.79 422.11 L283.83 421.37 L284.86 420.62 L285.89 419.86 L286.92 419.11 L287.95 418.34 L288.98 417.58 L290.01 416.81 L291.05 416.03 L292.08 415.25 L293.11 414.47 L294.14 413.68 L295.17 412.89 L296.20 412.09 L297.23 411.29 L298.27 410.49 L299.30 409.68 L300.33 408.87 L301.36 408.05 L302.39 407.23 L303.42 406.41 L304.45 405.58 L305.48 404.75 L306.52 403.91 L307.55 403.07 L308.58 402.23 L309.61 401.38 L310.64 400.53 L311.67 399.68 L312.70 398.82 L313.74 397.95 L314.77 397.09 L315.80 396.22 L316.83 395.34 L317.86 394.47 L318.89 393.59 L319.92 392.70 L320.95 391.81 L321.99 390.92 L323.02 390.03 L324.05 389.13 L325.08 388.22 L326.11 387.32 L327.14 386.41 L328.17 385.50 L329.21 384.58 L330.24 383.66 L331.27 382.73 L332.30 381.80 L333.33 380.87 L334.36 379.94 L335.39 379.00 L336.43 378.05 L337.46 377.11 L338.49 376.15 L339.52 375.20 L340.55 374.24 L341.58 373.27 L342.61 372.31 L343.64 371.33 L344.68 370.36 L345.71 369.37 L346.74 368.39 L347.77 367.40 L348.80 366.40 L349.83 365.41 L350.86 364.40 L351.90 363.39 L352.93 362.38 L353.96 361.36 L354.99 360.34 L356.02 359.32 L357.05 358.28 L358.08 357.25 L359.11 356.21 L360.15 355.16 L361.18 354.11 L362.21 353.05 L363.24 351.99 L364.27 350.93 L365.30 349.85 L366.33 348.78 L367.37 347.70 L368.40 346.61 L369.43 345.52 L370.46 344.42 L371.49 343.32 L372.52 342.21 L373.55 341.09 L374.58 339.98 L375.62 338.85 L376.65 337.72 L377.68 336.58 L378.71 335.44 L379.74 334.30 L380.77 333.14 L381.80 331.98 L382.84 330.82 L383.87 329.65 L384.90 328.47 L385.93 327.29 L386.96 326.10 L387.99 324.91 L389.02 323.70 L390.06 322.50 L391.09 321.29 L392.12 320.07 L393.15 318.84 L394.18 317.61 L395.21 316.37 L396.24 315.13 L397.27 313.88 L398.31 312.62 L399.34 311.35 L400.37 310.08 L401.40 308.81" fill="none" stroke="#00ff00" stroke-width="2.7" stroke-dasharray="22 18" clip-path="url(#c3)"/>
<path d="M71.30 455.05 L72.40 455.55 L73.43 456.02 L74.46 456.48 L75.49 456.94 L76.53 457.39 L77.56 457.84 L78.59 458.27 L79.62 458.71 L80.65 459.13 L81.68 459.56 L82.71 459.97 L83.74 460.38 L84.78 460.78 L85.81 461.18 L86.84 461.57 L87.87 461.96 L88.90 462.34 L89.93 462.71 L90.96 463.08 L92.00 463.44 L93.03 463.79 L94.06 464.14 L95.09 464.48 L96.12 464.82 L97.15 465.15 L98.18 465.47 L99.22 465.79 L100.25 466.10 L101.28 466.41 L102.31 466.71 L103.34 467.00 L104.37 467.29 L105.40 467.57 L106.43 467.85 L107.47 468.11 L108.50 468.38 L109.53 468.63 L110.56 468.88 L111.59 469.13 L112.62 469.37 L113.65 469.60 L114.69 469.82 L115.72 470.04 L116.75 470.25 L117.78 470.46 L118.81 470.66 L119.84 470.85 L120.87 471.04 L121.90 471.22 L122.94 471.40 L123.97 471.56 L125.00 471.73 L126.03 471.88 L127.06 472.03 L128.09 472.17 L129.12 472.31 L130.16 472.44 L131.19 472.56 L132.22 472.68 L133.25 472.79 L134.28 472.89 L135.31 472.99 L136.34 473.08 L137.37 473.17 L138.41 473.24 L139.44 473.32 L140.47 473.38 L141.50 473.44 L142.53 473.49 L143.56 473.54 L144.59 473.58 L145.63 473.61 L146.66 473.64 L147.69 473.65 L148.72 473.67 L149.75 473.67 L150.78 473.67 L151.81 473.67 L152.85 473.65 L153.88 473.63 L154.91 473.61 L155.94 473.57 L156.97 473.53 L158.00 473.48 L159.03 473.43 L160.06 473.37 L161.10 473.30 L162.13 473.23 L163.16 473.15 L164.19 473.06 L165.22 472.97 L166.25 472.87 L167.28 472.76 L168.32 472.65 L169.35 472.52 L170.38 472.40 L171.41 472.26 L172.44 472.12 L173.47 471.97 L174.50 471.82 L175.53 471.66 L176.57 471.49 L177.60 471.32 L178.63 471.14 L179.66 470.95 L180.69 470.76 L181.72 470.56 L182.75 470.35 L183.79 470.13 L184.82 469.91 L185.85 469.69 L186.88 469.45 L187.91 469.22 L188.94 468.97 L189.97 468.72 L191.01 468.46 L192.04 468.19 L193.07 467.92 L194.10 467.64 L195.13 467.36 L196.16 467.06 L197.19 466.77 L198.22 466.46 L199.26 466.15 L200.29 465.83 L201.32 465.51 L202.35 465.18 L203.38 464.85 L204.41 464.50 L205.44 464.15 L206.48 463.80 L207.51 463.44 L208.54 463.07 L209.57 462.70 L210.60 462.32 L211.63 461.93 L212.66 461.54 L213.69 461.14 L214.73 460.73 L215.76 460.32 L216.79 459.90 L217.82 459.48 L218.85 459.05 L219.88 458.62 L220.91 458.18 L221.95 457.73 L222.98 457.28 L224.01 456.82 L225.04 456.35 L226.07 455.88 L227.10 455.41 L228.13 454.93 L229.16 454.44 L230.20 453.95 L231.23 453.45 L232.26 452.95 L233.29 452.44 L234.32 451.93 L235.35 451.41 L236.38 450.88 L237.42 450.35 L238.45 449.82 L239.48 449.28 L240.51 448.73 L241.54 448.18 L242.57 447.63 L243.60 447.06 L244.64 446.50 L245.67 445.93 L246.70 445.35 L247.73 444.77 L248.76 444.19 L249.79 443.59 L250.82 443.00 L251.85 442.40 L252.89 441.79 L253.92 441.18 L254.95 440.57 L255.98 439.95 L257.01 439.32 L258.04 438.69 L259.07 438.06 L260.11 437.42 L261.14 436.77 L262.17 436.12 L263.20 435.47 L264.23 434.81 L265.26 434.15 L266.29 433.48 L267.32 432.81 L268.36 432.13 L269.39 431.45 L270.42 430.76 L271.45 430.07 L272.48 429.38 L273.51 428.68 L274.54 427.97 L275.58 427.26 L276.61 426.55 L277.64 425.83 L278.67 425.11 L279.70 424.38 L280.73 423.65 L281.76 422.91 L282.79 422.17 L283.83 421.43 L284.86 420.68 L285.89 419.93 L286.92 419.17 L287.95 418.41 L288.98 417.64 L290.01 416.87 L291.05 416.09 L292.08 415.31 L293.11 414.53 L294.14 413.74 L295.17 412.95 L296.20 412.16 L297.23 411.35 L298.27 410.55 L299.30 409.74 L300.33 408.93 L301.36 408.11 L302.39 407.29 L303.42 406.47 L304.45 405.64 L305.48 404.81 L306.52 403.97 L307.55 403.13 L308.58 402.28 L309.61 401.43 L310.64 400.58 L311.67 399.73 L312.70 398.87 L313.74 398.00 L314.77 397.13 L315.80 396.26 L316.83 395.38 L317.86 394.51 L318.89 393.62 L319.92 392.73 L320.95 391.84 L321.99 390.95 L323.02 390.05 L324.05 389.15 L325.08 388.24 L326.11 387.33 L327.14 386.42 L328.17 385.50 L329.21 384.58 L330.24 383.66 L331.27 382.73 L332.30 381.80 L333.33 380.86 L334.36 379.92 L335.39 378.98 L336.43 378.03 L337.46 377.08 L338.49 376.12 L339.52 375.16 L340.55 374.20 L341.58 373.23 L342.61 372.26 L343.64 371.28 L344.68 370.30 L345.71 369.32 L346.74 368.33 L347.77 367.34 L348.80 366.34 L349.83 365.34 L350.86 364.33 L351.90 363.32 L352.93 362.30 L353.96 361.28 L354.99 360.26 L356.02 359.23 L357.05 358.20 L358.08 357.16 L359.11 356.12 L360.15 355.07 L361.18 354.02 L362.21 352.96 L363.24 351.90 L364.27 350.83 L365.30 349.76 L366.33 348.68 L367.37 347.60 L368.40 346.52 L369.43 345.43 L370.46 344.33 L371.49 343.23 L372.52 342.12 L373.55 341.01 L374.58 339.90 L375.62 338.77 L376.65 337.65 L377.68 336.52 L378.71 335.38 L379.74 334.24 L380.77 333.09 L381.80 331.94 L382.84 330.78 L383.87 329.62 L384.90 328.45 L385.93 327.27 L386.96 326.09 L387.99 324.91 L389.02 323.72 L390.06 322.52 L391.09 321.32 L392.12 320.11 L393.15 318.90 L394.18 317.68 L395.21 316.45 L396.24 315.22 L397.27 313.99 L398.31 312.74 L399.34 311.50 L400.37 310.24 L401.40 308.98" fill="none" stroke="#800080" stroke-width="2.7" stroke-dasharray="31 6 10.3 6" clip-path="url(#c3)"/>
<path d="M72.40 528.27 L72.40 527.92 L72.40 527.66 L72.40 527.42 L72.41 527.20 L72.41 526.99 L72.42 526.78 L72.43 526.59 L72.43 526.39 L72.44 526.20 L72.45 526.02 L72.46 525.83 L72.47 525.65 L72.49 525.48 L72.50 525.30 L72.52 525.13 L72.53 524.95 L72.55 524.78 L72.57 524.62 L72.59 524.45 L72.61 524.28 L72.63 524.12 L72.65 523.95 L72.68 523.79 L72.70 523.63 L72.73 523.47 L72.75 523.31 L72.78 523.15 L72.81 522.99 L72.84 522.84 L72.87 522.68 L72.90 522.53 L72.93 522.37 L72.97 522.22 L73.00 522.06 L73.04 521.91 L73.07 521.76 L73.11 521.61 L73.15 521.46 L73.19 521.31 L73.23 521.16 L73.27 521.01 L73.32 520.86 L73.36 520.71 L73.41 520.56 L73.45 520.42 L73.50 520.27 L73.55 520.12 L73.60 519.98 L73.65 519.83 L73.70 519.69 L73.75 519.54 L73.81 519.40 L73.86 519.26 L73.92 519.11 L73.97 518.97 L74.03 518.83 L74.09 518.69 L74.15 518.55 L74.21 518.40 L74.27 518.26 L74.34 518.12 L74.40 517.98 L74.47 517.84 L74.53 517.71 L74.60 517.57 L74.67 517.43 L74.74 517.29 L74.81 517.15 L74.88 517.01 L74.95 516.88 L75.02 516.74 L75.10 516.60 L75.17 516.47 L75.25 516.33 L75.33 516.20 L75.41 516.06 L75.49 515.93 L75.57 515.79 L75.65 515.66 L75.73 515.52 L75.82 515.39 L75.90 515.26 L75.99 515.12 L76.07 514.99 L76.16 514.86 L76.25 514.73 L76.34 514.59 L76.43 514.46 L76.52 514.33 L76.62 514.20 L76.71 514.07 L76.81 513.94 L76.90 513.81 L77.00 513.68 L77.10 513.55 L77.20 513.42 L77.30 513.29 L77.40 513.16 L77.50 513.03 L77.61 512.90 L77.71 512.77 L77.82 512.65 L77.92 512.52 L78.03 512.39 L78.14 512.26 L78.25 512.14 L78.36 512.01 L78.47 511.89 L78.58 511.76 L78.70 511.63 L78.81 511.51 L78.93 511.38 L79.05 511.26 L79.16 511.13 L79.28 511.01 L79.40 510.88 L79.53 510.76 L79.65 510.64 L79.77 510.51 L79.90 510.39 L80.02 510.26 L80.15 510.14 L80.27 510.02 L80.40 509.90 L80.53 509.77 L80.66 509.65 L80.80 509.53 L80.93 509.41 L81.06 509.29 L81.20 509.17 L81.33 509.05 L81.47 508.92 L81.61 508.80 L81.75 508.68 L81.89 508.56 L82.03 508.44 L82.17 508.32 L82.31 508.20 L82.46 508.09 L82.60 507.97 L82.75 507.85 L82.90 507.73 L83.04 507.61 L83.19 507.49 L83.34 507.37 L83.50 507.26 L83.65 507.14 L83.80 507.02 L83.96 506.90 L84.11 506.79 L84.27 506.67 L84.43 506.55 L84.58 506.44 L84.74 506.32 L84.91 506.21 L85.07 506.09 L85.23 505.97 L85.39 505.86 L85.56 505.74 L86.62 505.03 L87.67 504.34 L88.73 503.69 L89.79 503.06 L90.84 502.45 L91.90 501.86 L92.95 501.30 L94.01 500.75 L95.07 500.22 L96.12 499.70 L97.18 499.20 L98.24 498.70 L99.29 498.22 L100.35 497.75 L101.40 497.30 L102.46 496.84 L103.52 496.40 L104.57 495.97 L105.63 495.54 L106.69 495.12 L107.74 494.71 L108.80 494.30 L109.86 493.90 L110.91 493.50 L111.97 493.11 L113.02 492.73 L114.08 492.34 L115.14 491.96 L116.19 491.59 L117.25 491.22 L118.31 490.85 L119.36 490.48 L120.42 490.12 L121.47 489.76 L122.53 489.40 L123.59 489.05 L124.64 488.69 L125.70 488.34 L126.76 487.99 L127.81 487.64 L128.87 487.29 L129.93 486.95 L130.98 486.60 L132.04 486.26 L133.09 485.92 L134.15 485.57 L135.21 485.23 L136.26 484.89 L137.32 484.55 L138.38 484.21 L139.43 483.87 L140.49 483.53 L141.55 483.19 L142.60 482.85 L143.66 482.51 L144.71 482.17 L145.77 481.83 L146.83 481.49 L147.88 481.15 L148.94 480.80 L150.00 480.46 L151.05 480.12 L152.11 479.78 L153.16 479.43 L154.22 479.09 L155.28 478.74 L156.33 478.39 L157.39 478.05 L158.45 477.70 L159.50 477.35 L160.56 477.00 L161.62 476.65 L162.67 476.29 L163.73 475.94 L164.78 475.58 L165.84 475.23 L166.90 474.87 L167.95 474.51 L169.01 474.15 L170.07 473.78 L171.12 473.42 L172.18 473.05 L173.23 472.69 L174.29 472.32 L175.35 471.95 L176.40 471.58 L177.46 471.20 L178.52 470.83 L179.57 470.45 L180.63 470.07 L181.69 469.69 L182.74 469.31 L183.80 468.92 L184.85 468.54 L185.91 468.15 L186.97 467.76 L188.02 467.37 L189.08 466.97 L190.14 466.57 L191.19 466.18 L192.25 465.78 L193.30 465.37 L194.36 464.97 L195.42 464.56 L196.47 464.15 L197.53 463.74 L198.59 463.32 L199.64 462.91 L200.70 462.49 L201.76 462.06 L202.81 461.64 L203.87 461.21 L204.92 460.78 L205.98 460.34 L207.04 459.91 L208.09 459.47 L209.15 459.03 L210.21 458.58 L211.26 458.13 L212.32 457.68 L213.37 457.22 L214.43 456.76 L215.49 456.30 L216.54 455.84 L217.60 455.37 L218.66 454.90 L219.71 454.42 L220.77 453.94 L221.83 453.46 L222.88 452.98 L223.94 452.49 L224.99 451.99 L226.05 451.50 L227.11 451.00 L228.16 450.49 L229.22 449.99 L230.28 449.48 L231.33 448.96 L232.39 448.44 L233.44 447.92 L234.50 447.39 L235.56 446.86 L236.61 446.33 L237.67 445.79 L238.73 445.25 L239.78 444.70 L240.84 444.15 L241.90 443.60 L242.95 443.04 L244.01 442.48 L245.06 441.91 L246.12 441.34 L247.18 440.77 L248.23 440.19 L249.29 439.61 L250.35 439.02 L251.40 438.43 L252.46 437.84 L253.52 437.24 L254.57 436.64 L255.63 436.03 L256.68 435.42 L257.74 434.80 L258.80 434.18 L259.85 433.56 L260.91 432.93 L261.97 432.30 L263.02 431.66 L264.08 431.02 L265.13 430.37 L266.19 429.72 L267.25 429.07 L268.30 428.41 L269.36 427.74 L270.42 427.07 L271.47 426.40 L272.53 425.72 L273.59 425.04 L274.64 424.36 L275.70 423.67 L276.75 422.97 L277.81 422.27 L278.87 421.57 L279.92 420.86 L280.98 420.15 L282.04 419.43 L283.09 418.71 L284.15 417.98 L285.20 417.25 L286.26 416.51 L287.32 415.77 L288.37 415.03 L289.43 414.28 L290.49 413.52 L291.54 412.76 L292.60 412.00 L293.66 411.23 L294.71 410.46 L295.77 409.68 L296.82 408.90 L297.88 408.11 L298.94 407.32 L299.99 406.53 L301.05 405.72 L302.11 404.92 L303.16 404.11 L304.22 403.29 L305.27 402.47 L306.33 401.65 L307.39 400.82 L308.44 399.99 L309.50 399.15 L310.56 398.30 L311.61 397.46 L312.67 396.60 L313.73 395.75 L314.78 394.88 L315.84 394.02 L316.89 393.14 L317.95 392.27 L319.01 391.38 L320.06 390.50 L321.12 389.61 L322.18 388.71 L323.23 387.81 L324.29 386.90 L325.34 385.99 L326.40 385.08 L327.46 384.16 L328.51 383.23 L329.57 382.30 L330.63 381.37 L331.68 380.43 L332.74 379.48 L333.80 378.53 L334.85 377.58 L335.91 376.62 L336.96 375.66 L338.02 374.69 L339.08 373.71 L340.13 372.74 L341.19 371.75 L342.25 370.76 L343.30 369.77 L344.36 368.77 L345.41 367.77 L346.47 366.76 L347.53 365.75 L348.58 364.73 L349.64 363.71 L350.70 362.68 L351.75 361.65 L352.81 360.61 L353.87 359.57 L354.92 358.52 L355.98 357.47 L357.03 356.41 L358.09 355.35 L359.15 354.28 L360.20 353.21 L361.26 352.14 L362.32 351.05 L363.37 349.97 L364.43 348.88 L365.49 347.78 L366.54 346.68 L367.60 345.57 L368.65 344.46 L369.71 343.34 L370.77 342.22 L371.82 341.10 L372.88 339.96 L373.94 338.83 L374.99 337.69 L376.05 336.54 L377.10 335.39 L378.16 334.23 L379.22 333.07 L380.27 331.91 L381.33 330.74 L382.39 329.56 L383.44 328.38 L384.50 327.19 L385.56 326.00 L386.61 324.81 L387.67 323.61 L388.72 322.40 L389.78 321.19 L390.84 319.97 L391.89 318.75 L392.95 317.53 L394.01 316.30 L395.06 315.06 L396.12 313.82 L397.17 312.58 L398.23 311.32 L399.29 310.07 L400.34 308.81 L401.40 307.54" fill="none" stroke="#ff00ff" stroke-width="2.7" clip-path="url(#c3)"/>
<path d="M71.30 447.46 L72.40 447.88 L73.43 448.28 L74.46 448.68 L75.49 449.08 L76.53 449.47 L77.56 449.87 L78.59 450.27 L79.62 450.67 L80.65 451.06 L81.68 451.46 L82.71 451.86 L83.74 452.25 L84.78 452.65 L85.81 453.04 L86.84 453.44 L87.87 453.83 L88.90 454.22 L89.93 454.61 L90.96 455.00 L92.00 455.38 L93.03 455.77 L94.06 456.15 L95.09 456.53 L96.12 456.91 L97.15 457.28 L98.18 457.66 L99.22 458.03 L100.25 458.40 L101.28 458.76 L102.31 459.12 L103.34 459.48 L104.37 459.84 L105.40 460.19 L106.43 460.54 L107.47 460.89 L108.50 461.23 L109.53 461.57 L110.56 461.90 L111.59 462.24 L112.62 462.56 L113.65 462.88 L114.69 463.20 L115.72 463.52 L116.75 463.82 L117.78 464.13 L118.81 464.43 L119.84 464.72 L120.87 465.01 L121.90 465.29 L122.94 465.57 L123.97 465.85 L125.00 466.11 L126.03 466.37 L127.06 466.63 L128.09 466.88 L129.12 467.12 L130.16 467.36 L131.19 467.59 L132.22 467.82 L133.25 468.03 L134.28 468.24 L135.31 468.45 L136.34 468.64 L137.37 468.83 L138.41 469.02 L139.44 469.19 L140.47 469.36 L141.50 469.52 L142.53 469.67 L143.56 469.82 L144.59 469.96 L145.63 470.09 L146.66 470.21 L147.69 470.33 L148.72 470.44 L149.75 470.54 L150.78 470.63 L151.81 470.72 L152.85 470.80 L153.88 470.87 L154.91 470.93 L155.94 470.99 L156.97 471.04 L158.00 471.08 L159.03 471.11 L160.06 471.14 L161.10 471.15 L162.13 471.16 L163.16 471.17 L164.19 471.16 L165.22 471.15 L166.25 471.13 L167.28 471.10 L168.32 471.06 L169.35 471.02 L170.38 470.96 L171.41 470.90 L172.44 470.83 L173.47 470.76 L174.50 470.67 L175.53 470.58 L176.57 470.48 L177.60 470.37 L178.63 470.25 L179.66 470.13 L180.69 470.00 L181.72 469.86 L182.75 469.71 L183.79 469.55 L184.82 469.39 L185.85 469.21 L186.88 469.03 L187.91 468.84 L188.94 468.64 L189.97 468.44 L191.01 468.22 L192.04 468.00 L193.07 467.77 L194.10 467.53 L195.13 467.28 L196.16 467.02 L197.19 466.76 L198.22 466.49 L199.26 466.20 L200.29 465.91 L201.32 465.62 L202.35 465.31 L203.38 464.99 L204.41 464.67 L205.44 464.34 L206.48 464.00 L207.51 463.66 L208.54 463.30 L209.57 462.94 L210.60 462.57 L211.63 462.20 L212.66 461.81 L213.69 461.42 L214.73 461.02 L215.76 460.62 L216.79 460.20 L217.82 459.78 L218.85 459.35 L219.88 458.92 L220.91 458.48 L221.95 458.03 L222.98 457.57 L224.01 457.11 L225.04 456.64 L226.07 456.17 L227.10 455.69 L228.13 455.20 L229.16 454.71 L230.20 454.20 L231.23 453.70 L232.26 453.18 L233.29 452.67 L234.32 452.14 L235.35 451.61 L236.38 451.07 L237.42 450.53 L238.45 449.98 L239.48 449.43 L240.51 448.87 L241.54 448.30 L242.57 447.73 L243.60 447.15 L244.64 446.57 L245.67 445.99 L246.70 445.39 L247.73 444.80 L248.76 444.19 L249.79 443.59 L250.82 442.98 L251.85 442.36 L252.89 441.74 L253.92 441.11 L254.95 440.48 L255.98 439.84 L257.01 439.20 L258.04 438.56 L259.07 437.91 L260.11 437.26 L261.14 436.60 L262.17 435.94 L263.20 435.27 L264.23 434.60 L265.26 433.93 L266.29 433.25 L267.32 432.57 L268.36 431.89 L269.39 431.20 L270.42 430.51 L271.45 429.81 L272.48 429.11 L273.51 428.41 L274.54 427.70 L275.58 426.99 L276.61 426.28 L277.64 425.56 L278.67 424.84 L279.70 424.11 L280.73 423.39 L281.76 422.65 L282.79 421.92 L283.83 421.18 L284.86 420.43 L285.89 419.69 L286.92 418.94 L287.95 418.18 L288.98 417.42 L290.01 416.66 L291.05 415.90 L292.08 415.13 L293.11 414.35 L294.14 413.57 L295.17 412.79 L296.20 412.01 L297.23 411.22 L298.27 410.42 L299.30 409.63 L300.33 408.83 L301.36 408.02 L302.39 407.21 L303.42 406.40 L304.45 405.58 L305.48 404.76 L306.52 403.93 L307.55 403.10 L308.58 402.27 L309.61 401.43 L310.64 400.59 L311.67 399.75 L312.70 398.90 L313.74 398.04 L314.77 397.19 L315.80 396.32 L316.83 395.46 L317.86 394.59 L318.89 393.71 L319.92 392.83 L320.95 391.95 L321.99 391.06 L323.02 390.17 L324.05 389.27 L325.08 388.37 L326.11 387.47 L327.14 386.56 L328.17 385.65 L329.21 384.73 L330.24 383.81 L331.27 382.88 L332.30 381.95 L333.33 381.02 L334.36 380.08 L335.39 379.14 L336.43 378.19 L337.46 377.23 L338.49 376.28 L339.52 375.32 L340.55 374.35 L341.58 373.38 L342.61 372.40 L343.64 371.43 L344.68 370.44 L345.71 369.45 L346.74 368.46 L347.77 367.46 L348.80 366.46 L349.83 365.45 L350.86 364.44 L351.90 363.43 L352.93 362.41 L353.96 361.38 L354.99 360.35 L356.02 359.31 L357.05 358.28 L358.08 357.23 L359.11 356.18 L360.15 355.13 L361.18 354.07 L362.21 353.01 L363.24 351.94 L364.27 350.87 L365.30 349.79 L366.33 348.71 L367.37 347.62 L368.40 346.53 L369.43 345.43 L370.46 344.33 L371.49 343.22 L372.52 342.11 L373.55 341.00 L374.58 339.87 L375.62 338.75 L376.65 337.62 L377.68 336.48 L378.71 335.34 L379.74 334.19 L380.77 333.04 L381.80 331.89 L382.84 330.72 L383.87 329.56 L384.90 328.39 L385.93 327.21 L386.96 326.03 L387.99 324.84 L389.02 323.65 L390.06 322.45 L391.09 321.25 L392.12 320.05 L393.15 318.83 L394.18 317.62 L395.21 316.39 L396.24 315.16 L397.27 313.93 L398.31 312.69 L399.34 311.45 L400.37 310.20 L401.40 308.95" fill="none" stroke="#ff0000" stroke-width="2.7" stroke-dasharray="11 5.65 3.7 5.65" clip-path="url(#c3)"/>
<path d="M71.30 528.20 L72.40 528.20 L74.05 528.19 L75.71 528.18 L77.36 528.15 L79.01 528.12 L80.67 528.07 L82.32 528.01 L83.97 527.95 L85.63 527.87 L87.28 527.78 L88.93 527.69 L90.59 527.58 L92.24 527.46 L93.89 527.33 L95.55 527.19 L97.20 527.04 L98.85 526.88 L100.51 526.71 L102.16 526.53 L103.81 526.34 L105.47 526.14 L107.12 525.93 L108.77 525.71 L110.43 525.48 L112.08 525.23 L113.73 524.98 L115.38 524.72 L117.04 524.45 L118.69 524.16 L120.34 523.87 L122.00 523.57 L123.65 523.25 L125.30 522.93 L126.96 522.59 L128.61 522.25 L130.26 521.89 L131.92 521.53 L133.57 521.15 L135.22 520.77 L136.88 520.37 L138.53 519.96 L140.18 519.54 L141.84 519.12 L143.49 518.68 L145.14 518.23 L146.80 517.77 L148.45 517.31 L150.10 516.83 L151.76 516.34 L153.41 515.84 L155.06 515.33 L156.72 514.81 L158.37 514.28 L160.02 513.74 L161.68 513.19 L163.33 512.62 L164.98 512.05 L166.64 511.47 L168.29 510.88 L169.94 510.28 L171.60 509.66 L173.25 509.04 L174.90 508.41 L176.56 507.76 L178.21 507.11 L179.86 506.45 L181.52 505.77 L183.17 505.09 L184.82 504.39 L186.48 503.69 L188.13 502.97 L189.78 502.24 L191.44 501.51 L193.09 500.76 L194.74 500.00 L196.39 499.24 L198.05 498.46 L199.70 497.67 L201.35 496.87 L203.01 496.07 L204.66 495.25 L206.31 494.42 L207.97 493.58 L209.62 492.73 L211.27 491.87 L212.93 491.00 L214.58 490.12 L216.23 489.23 L217.89 488.33 L219.54 487.42 L221.19 486.49 L222.85 485.56 L224.50 484.62 L226.15 483.67 L227.81 482.70 L229.46 481.73 L231.11 480.75 L232.77 479.75 L234.42 478.75 L236.07 477.74 L237.73 476.71 L239.38 475.68 L241.03 474.63 L242.69 473.58 L244.34 472.51 L245.99 471.43 L247.65 470.35 L249.30 469.25 L250.95 468.14 L252.61 467.03 L254.26 465.90 L255.91 464.76 L257.57 463.61 L259.22 462.45 L260.87 461.29 L262.53 460.11 L264.18 458.92 L265.83 457.72 L267.49 456.51 L269.14 455.29 L270.79 454.06 L272.45 452.82 L274.10 451.56 L275.75 450.30 L277.41 449.03 L279.06 447.75 L280.71 446.46 L282.36 445.15 L284.02 443.84 L285.67 442.52 L287.32 441.18 L288.98 439.84 L290.63 438.49 L292.28 437.12 L293.94 435.75 L295.59 434.36 L297.24 432.97 L298.90 431.56 L300.55 430.15 L302.20 428.72 L303.86 427.28 L305.51 425.84 L307.16 424.38 L308.82 422.91 L310.47 421.43 L312.12 419.95 L313.78 418.45 L315.43 416.94 L317.08 415.42 L318.74 413.89 L320.39 412.35 L322.04 410.80 L323.70 409.24 L325.35 407.67 L327.00 406.09 L328.66 404.50 L330.31 402.90 L331.96 401.29 L333.62 399.66 L335.27 398.03 L336.92 396.39 L338.58 394.74 L340.23 393.07 L341.88 391.40 L343.54 389.72 L345.19 388.02 L346.84 386.32 L348.50 384.60 L350.15 382.88 L351.80 381.14 L353.46 379.40 L355.11 377.64 L356.76 375.88 L358.42 374.10 L360.07 372.31 L361.72 370.52 L363.37 368.71 L365.03 366.89 L366.68 365.06 L368.33 363.23 L369.99 361.38 L371.64 359.52 L373.29 357.65 L374.95 355.77 L376.60 353.88 L378.25 351.98 L379.91 350.07 L381.56 348.15 L383.21 346.22 L384.87 344.28 L386.52 342.33 L388.17 340.36 L389.83 338.39 L391.48 336.41 L393.13 334.42 L394.79 332.41 L396.44 330.40 L398.09 328.38 L399.75 326.34 L401.40 324.30" fill="none" stroke="#000000" stroke-width="1.15" stroke-dasharray="1.8 4.13" stroke-opacity="0.88" clip-path="url(#c3)"/>
<text x="216.90" y="274.90" class="xr">r</text>
<text x="0" y="0" class="xs" transform="translate(230.20 278.70) scale(0.88 1.07)">/</text>
<text x="239.60" y="274.90" class="xr">r</text>
<text x="250.80" y="279.90" class="xsub">23</text>
<text x="638.70" y="274.90" class="xr">r</text>
<text x="0" y="0" class="xs" transform="translate(652.00 278.70) scale(0.88 1.07)">/</text>
<text x="661.40" y="274.90" class="xr">r</text>
<text x="672.60" y="279.90" class="xsub">23</text>
<text x="209.60" y="578.30" class="xr">r</text>
<text x="0" y="0" class="xs" transform="translate(222.90 582.10) scale(0.88 1.07)">/</text>
<text x="232.30" y="578.30" class="xr">r</text>
<text x="243.50" y="583.30" class="xsub">23</text>
<g transform="translate(26.20 137.00) rotate(-90)">
<text x="0" y="0" class="yg" transform="skewX(-8)">g</text>
<text x="15.00" y="5.00" class="subr">tt</text>
</g>
<g transform="translate(454.80 137.60) rotate(-90)">
<text x="0" y="0" class="yg" transform="skewX(-8)">g</text>
<text x="16.40" y="5.00" class="subrr">rr</text>
</g>
<g transform="translate(26.20 443.60) rotate(-90)">
<text x="0" y="0" class="yg" transform="skewX(-8)">g</text>
<text x="14.80" y="5.00" class="subi">&#952;&#952;</text>
</g>
<rect x="490.0" y="314.5" width="278.5" height="279.0" fill="#fff" stroke="#8a8a8a" stroke-width="1"/>
<path d="M517 352.00 H644.2" stroke="#ff00ff" stroke-width="2.5" fill="none"/>
<text y="352.70" class="lg"><tspan x="654.00">x</tspan><tspan x="666.20">=</tspan><tspan x="679.30">0</tspan></text>
<path d="M517 395.60 H644.2" stroke="#0000ff" stroke-width="2.5" fill="none" stroke-dasharray="10.3 6.2"/>
<text y="396.50" class="lg"><tspan x="654.00">x</tspan><tspan x="666.20">=</tspan><tspan x="679.60">1</tspan><tspan x="688.30" dy="2.6" class="sl">/</tspan><tspan dy="-2.6" font-size="1">&#8203;</tspan><tspan x="699.70">4</tspan></text>
<path d="M517 439.20 H644.2" stroke="#00ff00" stroke-width="2.5" fill="none" stroke-dasharray="22 18"/>
<text y="440.00" class="lg"><tspan x="654.00">x</tspan><tspan x="666.20">=</tspan><tspan x="679.60">1</tspan><tspan x="688.30" dy="2.6" class="sl">/</tspan><tspan dy="-2.6" font-size="1">&#8203;</tspan><tspan x="701.20">3</tspan></text>
<path d="M517 482.50 H644.2" stroke="#800080" stroke-width="2.5" fill="none" stroke-dasharray="31 6 10.3 6"/>
<text y="483.30" class="lg"><tspan x="654.00">x</tspan><tspan x="666.20">=</tspan><tspan x="679.60">1</tspan><tspan x="688.30" dy="2.6" class="sl">/</tspan><tspan dy="-2.6" font-size="1">&#8203;</tspan><tspan x="700.80">2</tspan></text>
<path d="M517 526.10 H644.2" stroke="#ff0000" stroke-width="2.5" fill="none" stroke-dasharray="11 5.65 3.7 5.65"/>
<text y="526.70" class="lg"><tspan x="654.00">x</tspan><tspan x="666.20">=</tspan><tspan x="678.90">2</tspan><tspan x="690.30" dy="2.6" class="sl">/</tspan><tspan dy="-2.6" font-size="1">&#8203;</tspan><tspan x="701.90">3</tspan></text>
<path d="M517 569.00 H644.2" stroke="#000000" stroke-width="1.1" fill="none" stroke-dasharray="1.8 4.13" stroke-opacity="0.88"/>
<text y="568.80" class="lg"><tspan x="653.90">f</tspan><tspan x="660.90">l</tspan><tspan x="666.90">a</tspan><tspan x="677.10">t</tspan><tspan x="690.40">s</tspan><tspan x="699.40">p</tspan><tspan x="711.30">a</tspan><tspan x="722.20">c</tspan><tspan x="733.40">e</tspan></text>
</svg>
</body></html>
